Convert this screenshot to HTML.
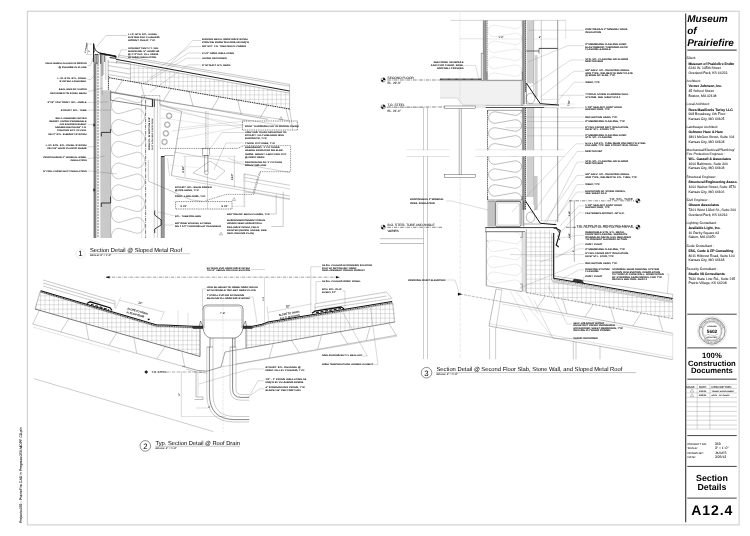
<!DOCTYPE html>
<html><head><meta charset="utf-8"><title>A12.4 Section Details</title>
<style>
html,body{margin:0;padding:0;background:#fff;}
body{width:750px;height:536px;overflow:hidden;font-family:"Liberation Sans",sans-serif;}
svg{display:block;filter:grayscale(1);text-rendering:geometricPrecision;font-family:"Liberation Sans",sans-serif;}
</style></head><body>
<svg width="750" height="536" viewBox="0 0 750 536">
<rect width="750" height="536" fill="#fff"/>
<rect x="27.30" y="11.20" width="711.80" height="513.70" fill="none" stroke="#c4c4c4" stroke-width="0.9" rx="0"/>
<text transform="translate(22.40 523.00) rotate(-90)" font-size="3.53" text-anchor="start" fill="#111" stroke="#111" stroke-width="0.08">Projects:359 - PrairieFire CAD in Progress:359-MOPF CD.pln</text>
<line x1="685.70" y1="13.60" x2="685.70" y2="522.20" stroke="#333" stroke-width="1.1"/>
<text transform="translate(687.20 22.10)" font-size="10" text-anchor="start" fill="#000" font-weight="bold" font-style="italic">Museum</text>
<text transform="translate(687.20 33.80)" font-size="10" text-anchor="start" fill="#000" font-weight="bold" font-style="italic">of</text>
<text transform="translate(687.20 45.50)" font-size="10" text-anchor="start" fill="#000" font-weight="bold" font-style="italic">Prairiefire</text>
<line x1="687.30" y1="50.10" x2="736.70" y2="50.10" stroke="#555" stroke-width="1.1"/>
<text transform="translate(686.60 59.20)" font-size="3.4" text-anchor="start" fill="#222" stroke="#222" stroke-width="0.05">Client:</text>
<text transform="translate(688.40 64.50)" font-size="3.45" text-anchor="start" fill="#000" stroke="#000" stroke-width="0.05" font-weight="bold">Museum of Prairiefire Fndtn</text>
<text transform="translate(688.40 69.17)" font-size="3.45" text-anchor="start" fill="#222" stroke="#222" stroke-width="0.05">6240 W. 135th Street</text>
<text transform="translate(688.40 73.84)" font-size="3.45" text-anchor="start" fill="#222" stroke="#222" stroke-width="0.05">Overland Park, KS 66223</text>
<text transform="translate(686.60 82.00)" font-size="3.4" text-anchor="start" fill="#222" stroke="#222" stroke-width="0.05">Architect:</text>
<text transform="translate(688.40 87.30)" font-size="3.45" text-anchor="start" fill="#000" stroke="#000" stroke-width="0.05" font-weight="bold">Verner Johnson, Inc.</text>
<text transform="translate(688.40 91.97)" font-size="3.45" text-anchor="start" fill="#222" stroke="#222" stroke-width="0.05">45 School Street</text>
<text transform="translate(688.40 96.64)" font-size="3.45" text-anchor="start" fill="#222" stroke="#222" stroke-width="0.05">Boston, MA 02108</text>
<text transform="translate(686.60 105.30)" font-size="3.4" text-anchor="start" fill="#222" stroke="#222" stroke-width="0.05">Local Architect:</text>
<text transform="translate(688.40 110.60)" font-size="3.45" text-anchor="start" fill="#000" stroke="#000" stroke-width="0.05" font-weight="bold">Rees Masilionis Turley LLC</text>
<text transform="translate(688.40 115.27)" font-size="3.45" text-anchor="start" fill="#222" stroke="#222" stroke-width="0.05">908 Broadway, 6th Floor</text>
<text transform="translate(688.40 119.94)" font-size="3.45" text-anchor="start" fill="#222" stroke="#222" stroke-width="0.05">Kansas City, MO 64105</text>
<text transform="translate(686.60 128.10)" font-size="3.4" text-anchor="start" fill="#222" stroke="#222" stroke-width="0.05">Landscape Architect:</text>
<text transform="translate(688.40 133.40)" font-size="3.45" text-anchor="start" fill="#000" stroke="#000" stroke-width="0.05" font-weight="bold">Ochsner Hare &amp; Hare</text>
<text transform="translate(688.40 138.07)" font-size="3.45" text-anchor="start" fill="#222" stroke="#222" stroke-width="0.05">1801 McGee Street, Suite 101</text>
<text transform="translate(688.40 142.74)" font-size="3.45" text-anchor="start" fill="#222" stroke="#222" stroke-width="0.05">Kansas City, MO 64108</text>
<text transform="translate(686.60 151.10)" font-size="3.4" text-anchor="start" fill="#222" stroke="#222" stroke-width="0.05">Mechanical/Electrical/Plumbing/</text>
<text transform="translate(686.60 154.80)" font-size="3.4" text-anchor="start" fill="#222" stroke="#222" stroke-width="0.05">Fire Protection Engineer :</text>
<text transform="translate(688.40 160.10)" font-size="3.45" text-anchor="start" fill="#000" stroke="#000" stroke-width="0.05" font-weight="bold">W.L. Cassell &amp; Associates</text>
<text transform="translate(688.40 164.77)" font-size="3.45" text-anchor="start" fill="#222" stroke="#222" stroke-width="0.05">1600 Baltimore, Suite 300</text>
<text transform="translate(688.40 169.44)" font-size="3.45" text-anchor="start" fill="#222" stroke="#222" stroke-width="0.05">Kansas City, MO 64108</text>
<text transform="translate(686.60 178.00)" font-size="3.4" text-anchor="start" fill="#222" stroke="#222" stroke-width="0.05">Structural Engineer :</text>
<text transform="translate(688.40 183.30)" font-size="3.45" text-anchor="start" fill="#000" stroke="#000" stroke-width="0.05" font-weight="bold">Structural Engineering Assoc.</text>
<text transform="translate(688.40 187.97)" font-size="3.45" text-anchor="start" fill="#222" stroke="#222" stroke-width="0.05">1000 Walnut Street, Suite 1570</text>
<text transform="translate(688.40 192.64)" font-size="3.45" text-anchor="start" fill="#222" stroke="#222" stroke-width="0.05">Kansas City, MO 64106</text>
<text transform="translate(686.60 201.10)" font-size="3.4" text-anchor="start" fill="#222" stroke="#222" stroke-width="0.05">Civil Engineer :</text>
<text transform="translate(688.40 206.40)" font-size="3.45" text-anchor="start" fill="#000" stroke="#000" stroke-width="0.05" font-weight="bold">Olsson Associates</text>
<text transform="translate(688.40 211.07)" font-size="3.45" text-anchor="start" fill="#222" stroke="#222" stroke-width="0.05">7301 West 133rd St., Suite 200</text>
<text transform="translate(688.40 215.74)" font-size="3.45" text-anchor="start" fill="#222" stroke="#222" stroke-width="0.05">Overland Park, KS 66213</text>
<text transform="translate(686.60 223.80)" font-size="3.4" text-anchor="start" fill="#222" stroke="#222" stroke-width="0.05">Lighting Consultant :</text>
<text transform="translate(688.40 229.10)" font-size="3.45" text-anchor="start" fill="#000" stroke="#000" stroke-width="0.05" font-weight="bold">Available Light, Inc.</text>
<text transform="translate(688.40 233.77)" font-size="3.45" text-anchor="start" fill="#222" stroke="#222" stroke-width="0.05">10 Derby Square #3</text>
<text transform="translate(688.40 238.44)" font-size="3.45" text-anchor="start" fill="#222" stroke="#222" stroke-width="0.05">Salem, MA 01970</text>
<text transform="translate(686.60 246.70)" font-size="3.4" text-anchor="start" fill="#222" stroke="#222" stroke-width="0.05">Code Consultant :</text>
<text transform="translate(688.40 252.00)" font-size="3.45" text-anchor="start" fill="#000" stroke="#000" stroke-width="0.05" font-weight="bold">FSC, Code &amp; FP Consulting</text>
<text transform="translate(688.40 256.67)" font-size="3.45" text-anchor="start" fill="#222" stroke="#222" stroke-width="0.05">8011 Hillcrest Road, Suite 100</text>
<text transform="translate(688.40 261.34)" font-size="3.45" text-anchor="start" fill="#222" stroke="#222" stroke-width="0.05">Kansas City, MO 64138</text>
<text transform="translate(686.60 269.60)" font-size="3.4" text-anchor="start" fill="#222" stroke="#222" stroke-width="0.05">Security Consultant :</text>
<text transform="translate(688.40 274.90)" font-size="3.45" text-anchor="start" fill="#000" stroke="#000" stroke-width="0.05" font-weight="bold">Studio 08  Consultants</text>
<text transform="translate(688.40 279.57)" font-size="3.45" text-anchor="start" fill="#222" stroke="#222" stroke-width="0.05">7930 State Line Rd., Suite 215</text>
<text transform="translate(688.40 284.24)" font-size="3.45" text-anchor="start" fill="#222" stroke="#222" stroke-width="0.05">Prairie Village, KS 66208</text>
<line x1="687.30" y1="314.20" x2="736.70" y2="314.20" stroke="#444" stroke-width="1.0"/>
<circle cx="712.00" cy="331.10" r="14.60" fill="none" stroke="#aaa" stroke-width="0.3"/>
<circle cx="712.00" cy="331.10" r="13.10" fill="none" stroke="#444" stroke-width="0.55"/>
<circle cx="712.00" cy="331.10" r="12.40" fill="none" stroke="#888" stroke-width="0.25"/>
<circle cx="712.00" cy="331.10" r="9.90" fill="none" stroke="#444" stroke-width="0.45"/>
<circle cx="712.00" cy="331.10" r="8.90" fill="none" stroke="#777" stroke-width="0.3"/>
<text transform="translate(712.00 333.30)" font-size="4.7" text-anchor="middle" fill="#000" font-weight="bold">5602</text>
<path id="sealp" d="M 701.40 331.10 A 10.6 10.6 0 0 1 722.60 331.10" fill="none"/>
<text font-size="2.3" fill="#333"><textPath href="#sealp" startOffset="7%">MICHAEL A. ROSENBERG</textPath></text>
<path id="sealq" d="M 699.90 331.10 A 12.1 12.1 0 0 0 724.10 331.10" fill="none"/>
<text font-size="2.3" fill="#333"><textPath href="#sealq" startOffset="24%">STATE OF KANSAS</textPath></text>
<text transform="translate(712.00 326.80)" font-size="1.9" text-anchor="middle" fill="#444" stroke="#444" stroke-width="0.085">LICENSED</text>
<text transform="translate(712.00 338.00)" font-size="1.9" text-anchor="middle" fill="#444" stroke="#444" stroke-width="0.085">ARCHITECT</text>
<path d="M 705.00 335.70 q 3 -2.4 6 -0.6 t 7 -1.2" fill="none" stroke="#666" stroke-width="0.3" />
<line x1="687.30" y1="347.90" x2="736.70" y2="347.90" stroke="#444" stroke-width="1.0"/>
<text transform="translate(711.90 358.40)" font-size="7.7" text-anchor="middle" fill="#000" font-weight="bold">100%</text>
<text transform="translate(711.90 365.70)" font-size="7.7" text-anchor="middle" fill="#000" font-weight="bold">Construction</text>
<text transform="translate(711.90 373.10)" font-size="7.7" text-anchor="middle" fill="#000" font-weight="bold">Documents</text>
<line x1="687.30" y1="379.20" x2="736.70" y2="379.20" stroke="#444" stroke-width="1.0"/>
<line x1="686.50" y1="384.30" x2="737.00" y2="384.30" stroke="#777" stroke-width="0.3"/>
<line x1="686.50" y1="388.40" x2="737.00" y2="388.40" stroke="#777" stroke-width="0.3"/>
<line x1="686.50" y1="392.90" x2="737.00" y2="392.90" stroke="#777" stroke-width="0.3"/>
<line x1="686.50" y1="397.40" x2="737.00" y2="397.40" stroke="#777" stroke-width="0.3"/>
<line x1="686.50" y1="402.00" x2="737.00" y2="402.00" stroke="#777" stroke-width="0.3"/>
<line x1="686.50" y1="406.70" x2="737.00" y2="406.70" stroke="#777" stroke-width="0.3"/>
<line x1="686.50" y1="411.40" x2="737.00" y2="411.40" stroke="#777" stroke-width="0.3"/>
<line x1="686.50" y1="416.00" x2="737.00" y2="416.00" stroke="#777" stroke-width="0.3"/>
<line x1="686.50" y1="420.30" x2="737.00" y2="420.30" stroke="#777" stroke-width="0.3"/>
<line x1="686.50" y1="425.00" x2="737.00" y2="425.00" stroke="#777" stroke-width="0.3"/>
<line x1="686.50" y1="429.10" x2="737.00" y2="429.10" stroke="#777" stroke-width="0.3"/>
<line x1="697.20" y1="384.30" x2="697.20" y2="429.10" stroke="#777" stroke-width="0.3"/>
<line x1="709.90" y1="384.30" x2="709.90" y2="429.10" stroke="#777" stroke-width="0.3"/>
<text transform="translate(686.30 387.60)" font-size="2.9" text-anchor="start" fill="#222" stroke="#222" stroke-width="0.05">MARK</text>
<text transform="translate(699.00 387.60)" font-size="2.9" text-anchor="start" fill="#222" stroke="#222" stroke-width="0.05">DATE</text>
<text transform="translate(711.60 387.60)" font-size="2.9" text-anchor="start" fill="#222" stroke="#222" stroke-width="0.05">DESCRIPTION</text>
<path d="M690.20 392.00 L692.00 389.10 L693.80 392.00 Z" fill="none" stroke="#444" stroke-width="0.3"/>
<text transform="translate(699.00 391.80) scale(1.1 1)" font-size="2.0" text-anchor="start" fill="#333" stroke="#333" stroke-width="0.085">5/13/13</text>
<text transform="translate(711.60 391.80) scale(1.1 1)" font-size="1.75" text-anchor="start" fill="#333" stroke="#333" stroke-width="0.085">TENANT IMPROVEMENT</text>
<path d="M690.20 396.60 L692.00 393.70 L693.80 396.60 Z" fill="none" stroke="#444" stroke-width="0.3"/>
<text transform="translate(699.00 396.40) scale(1.1 1)" font-size="2.0" text-anchor="start" fill="#333" stroke="#333" stroke-width="0.085">8/26/13</text>
<text transform="translate(711.60 396.40) scale(1.1 1)" font-size="1.75" text-anchor="start" fill="#333" stroke="#333" stroke-width="0.085">ASI 31 - RFI CLARIF.</text>
<line x1="687.30" y1="435.60" x2="736.70" y2="435.60" stroke="#444" stroke-width="1.0"/>
<text transform="translate(687.50 444.60) scale(1.08 1)" font-size="2.7" text-anchor="start" fill="#222" stroke="#222" stroke-width="0.05">PROJECT NO.</text>
<text transform="translate(714.90 444.60)" font-size="3.4" text-anchor="start" fill="#222" stroke="#222" stroke-width="0.05">359</text>
<text transform="translate(687.50 449.10) scale(1.08 1)" font-size="2.7" text-anchor="start" fill="#222" stroke="#222" stroke-width="0.05">SCALE:</text>
<text transform="translate(714.90 449.10)" font-size="3.4" text-anchor="start" fill="#222" stroke="#222" stroke-width="0.05">3" = 1'-0"</text>
<text transform="translate(687.50 453.50) scale(1.08 1)" font-size="2.7" text-anchor="start" fill="#222" stroke="#222" stroke-width="0.05">DRAWN BY:</text>
<text transform="translate(714.90 453.50)" font-size="3.4" text-anchor="start" fill="#222" stroke="#222" stroke-width="0.05">JK/AES</text>
<text transform="translate(687.50 458.10) scale(1.08 1)" font-size="2.7" text-anchor="start" fill="#222" stroke="#222" stroke-width="0.05">DATE:</text>
<text transform="translate(714.90 458.10)" font-size="3.4" text-anchor="start" fill="#222" stroke="#222" stroke-width="0.05">3/26/13</text>
<line x1="687.30" y1="466.40" x2="736.70" y2="466.40" stroke="#444" stroke-width="1.0"/>
<text transform="translate(711.90 480.80)" font-size="8.8" text-anchor="middle" fill="#000" font-weight="bold">Section</text>
<text transform="translate(711.90 489.60)" font-size="8.8" text-anchor="middle" fill="#000" font-weight="bold">Details</text>
<line x1="687.30" y1="498.10" x2="736.70" y2="498.10" stroke="#444" stroke-width="1.0"/>
<text transform="translate(712.20 515.30)" font-size="14" text-anchor="middle" fill="#000" font-weight="bold" letter-spacing="0.95">A12.4</text>
<line x1="118.00" y1="54.97" x2="289.60" y2="84.40" stroke="#444" stroke-width="0.3"/>
<line x1="118.00" y1="56.77" x2="289.60" y2="86.20" stroke="#444" stroke-width="0.3"/>
<line x1="116.00" y1="59.32" x2="289.60" y2="91.00" stroke="#111" stroke-width="0.95"/>
<line x1="116.00" y1="61.52" x2="289.60" y2="93.20" stroke="#333" stroke-width="0.3"/>
<clipPath id="g1"><path d="M130.4 64.15 L289.60 93.20 L289.60 109.02 L130.4 81.39 Z"/></clipPath>
<g clip-path="url(#g1)" stroke="#858585" stroke-width="0.25"><line x1="134.20" y1="58.00" x2="134.20" y2="112.00"/><line x1="138.65" y1="58.00" x2="138.65" y2="112.00"/><line x1="143.10" y1="58.00" x2="143.10" y2="112.00"/><line x1="147.55" y1="58.00" x2="147.55" y2="112.00"/><line x1="152.00" y1="58.00" x2="152.00" y2="112.00"/><line x1="156.45" y1="58.00" x2="156.45" y2="112.00"/><line x1="160.90" y1="58.00" x2="160.90" y2="112.00"/><line x1="165.35" y1="58.00" x2="165.35" y2="112.00"/><line x1="169.80" y1="58.00" x2="169.80" y2="112.00"/><line x1="174.25" y1="58.00" x2="174.25" y2="112.00"/><line x1="178.70" y1="58.00" x2="178.70" y2="112.00"/><line x1="183.15" y1="58.00" x2="183.15" y2="112.00"/><line x1="187.60" y1="58.00" x2="187.60" y2="112.00"/><line x1="192.05" y1="58.00" x2="192.05" y2="112.00"/><line x1="196.50" y1="58.00" x2="196.50" y2="112.00"/><line x1="200.95" y1="58.00" x2="200.95" y2="112.00"/><line x1="205.40" y1="58.00" x2="205.40" y2="112.00"/><line x1="209.85" y1="58.00" x2="209.85" y2="112.00"/><line x1="214.30" y1="58.00" x2="214.30" y2="112.00"/><line x1="218.75" y1="58.00" x2="218.75" y2="112.00"/><line x1="223.20" y1="58.00" x2="223.20" y2="112.00"/><line x1="227.65" y1="58.00" x2="227.65" y2="112.00"/><line x1="232.10" y1="58.00" x2="232.10" y2="112.00"/><line x1="236.55" y1="58.00" x2="236.55" y2="112.00"/><line x1="241.00" y1="58.00" x2="241.00" y2="112.00"/><line x1="245.45" y1="58.00" x2="245.45" y2="112.00"/><line x1="249.90" y1="58.00" x2="249.90" y2="112.00"/><line x1="254.35" y1="58.00" x2="254.35" y2="112.00"/><line x1="258.80" y1="58.00" x2="258.80" y2="112.00"/><line x1="263.25" y1="58.00" x2="263.25" y2="112.00"/><line x1="267.70" y1="58.00" x2="267.70" y2="112.00"/><line x1="272.15" y1="58.00" x2="272.15" y2="112.00"/><line x1="276.60" y1="58.00" x2="276.60" y2="112.00"/><line x1="281.05" y1="58.00" x2="281.05" y2="112.00"/><line x1="285.50" y1="58.00" x2="285.50" y2="112.00"/><line x1="289.95" y1="58.00" x2="289.95" y2="112.00"/><line x1="130.00" y1="59.30" x2="291.00" y2="59.30"/><line x1="130.00" y1="63.75" x2="291.00" y2="63.75"/><line x1="130.00" y1="68.20" x2="291.00" y2="68.20"/><line x1="130.00" y1="72.65" x2="291.00" y2="72.65"/><line x1="130.00" y1="77.10" x2="291.00" y2="77.10"/><line x1="130.00" y1="81.55" x2="291.00" y2="81.55"/><line x1="130.00" y1="86.00" x2="291.00" y2="86.00"/><line x1="130.00" y1="90.45" x2="291.00" y2="90.45"/><line x1="130.00" y1="94.90" x2="291.00" y2="94.90"/><line x1="130.00" y1="99.35" x2="291.00" y2="99.35"/><line x1="130.00" y1="103.80" x2="291.00" y2="103.80"/><line x1="130.00" y1="108.25" x2="291.00" y2="108.25"/></g>
<line x1="109.00" y1="77.68" x2="289.60" y2="109.02" stroke="#222" stroke-width="0.9" stroke-dasharray="1.6 0.7"/>
<line x1="110.00" y1="91.40" x2="268.00" y2="119.37" stroke="#333" stroke-width="0.35"/>
<line x1="260.00" y1="117.95" x2="267.60" y2="105.20" stroke="#444" stroke-width="0.3"/>
<line x1="285.80" y1="108.36" x2="289.60" y2="123.19" stroke="#444" stroke-width="0.3"/>
<line x1="211.70" y1="109.40" x2="219.30" y2="96.82" stroke="#444" stroke-width="0.3"/>
<line x1="237.50" y1="99.98" x2="241.30" y2="114.64" stroke="#444" stroke-width="0.3"/>
<line x1="163.40" y1="100.85" x2="171.00" y2="88.44" stroke="#444" stroke-width="0.3"/>
<line x1="189.20" y1="91.60" x2="193.00" y2="106.09" stroke="#444" stroke-width="0.3"/>
<line x1="115.10" y1="92.30" x2="122.70" y2="80.06" stroke="#444" stroke-width="0.3"/>
<line x1="140.90" y1="83.22" x2="144.70" y2="97.54" stroke="#444" stroke-width="0.3"/>
<path d="M110.70 92.30 L152.30 99.30 L152.30 106.80 L110.70 100.20 Z" fill="none" stroke="#222" stroke-width="0.55"/>
<line x1="289.60" y1="84.40" x2="289.60" y2="110.02" stroke="#444" stroke-width="0.3"/>
<line x1="289.60" y1="109.02" x2="292.60" y2="129.19" stroke="#555" stroke-width="0.3"/>
<line x1="108.20" y1="62.00" x2="130.40" y2="64.00" stroke="#444" stroke-width="0.3"/>
<line x1="108.20" y1="65.60" x2="130.40" y2="69.20" stroke="#444" stroke-width="0.3"/>
<line x1="108.20" y1="70.40" x2="130.40" y2="74.00" stroke="#444" stroke-width="0.3"/>
<line x1="108.20" y1="74.60" x2="130.40" y2="78.20" stroke="#444" stroke-width="0.3"/>
<line x1="130.40" y1="64.15" x2="130.40" y2="81.39" stroke="#444" stroke-width="0.3"/>
<line x1="108.40" y1="76.00" x2="108.40" y2="90.00" stroke="#111" stroke-width="0.8" stroke-dasharray="1.6 0.6"/>
<line x1="108.20" y1="60.00" x2="108.20" y2="76.00" stroke="#333" stroke-width="0.35"/>
<path d="M93.6 43.6 L93.4 62 M93.6 43.6 Q94.2 51.6 99.8 53 L116 56 L116 58.3 L109.6 57.6" fill="none" stroke="#111" stroke-width="0.9" />
<path d="M93.6 44 L94.4 50 L94.3 52.4 L93.6 52.4 Z" fill="#333" stroke="#111" stroke-width="0.2" />
<line x1="99.80" y1="53.40" x2="116.00" y2="56.60" stroke="#111" stroke-width="1.2"/>
<rect x="95.00" y="54.60" width="3.00" height="8.60" fill="none" stroke="#111" stroke-width="0.7" rx="0"/>
<line x1="96.50" y1="55.00" x2="96.50" y2="63.00" stroke="#222" stroke-width="0.5"/>
<line x1="100.70" y1="54.50" x2="100.70" y2="64.00" stroke="#111" stroke-width="0.7"/>
<line x1="102.10" y1="55.00" x2="102.10" y2="76.00" stroke="#222" stroke-width="0.5"/>
<line x1="104.60" y1="55.50" x2="104.60" y2="62.00" stroke="#222" stroke-width="0.6"/>
<line x1="99.00" y1="54.00" x2="107.00" y2="55.50" stroke="#222" stroke-width="0.6"/>
<line x1="101.00" y1="55.00" x2="101.00" y2="62.00" stroke="#222" stroke-width="0.5"/>
<line x1="103.60" y1="56.00" x2="103.60" y2="75.00" stroke="#444" stroke-width="0.3"/>
<line x1="105.80" y1="56.50" x2="105.80" y2="80.00" stroke="#444" stroke-width="0.3"/>
<line x1="87.50" y1="44.00" x2="87.50" y2="54.50" stroke="#555" stroke-width="0.25"/>
<line x1="86.00" y1="44.00" x2="92.00" y2="44.00" stroke="#777" stroke-width="0.25"/>
<line x1="86.00" y1="54.50" x2="92.00" y2="54.50" stroke="#777" stroke-width="0.25"/>
<text transform="translate(85.80 53.00) rotate(-80)" font-size="1.7" text-anchor="start" fill="#333" stroke="#333" stroke-width="0.085">4" STRAIGHT</text>
<text transform="translate(89.60 52.00) rotate(-80)" font-size="1.8" text-anchor="start" fill="#333" stroke="#333" stroke-width="0.085">2"</text>
<rect x="94.00" y="64.00" width="2.00" height="174.00" fill="#9a9a9a" stroke="none" stroke-width="0.4" rx="0"/>
<line x1="94.00" y1="62.00" x2="94.00" y2="238.00" stroke="#222" stroke-width="0.55"/>
<line x1="96.00" y1="64.00" x2="96.00" y2="238.00" stroke="#333" stroke-width="0.4"/>
<line x1="98.00" y1="64.00" x2="98.00" y2="238.00" stroke="#111" stroke-width="0.55" stroke-dasharray="2.2 0.8"/>
<rect x="101.60" y="90.30" width="8.60" height="147.70" fill="#c9c9c9" stroke="none" stroke-width="0.4" rx="0"/>
<line x1="101.00" y1="62.00" x2="101.00" y2="238.00" stroke="#333" stroke-width="0.35"/>
<line x1="110.60" y1="90.00" x2="110.60" y2="238.00" stroke="#333" stroke-width="0.35"/>
<line x1="102.20" y1="62.00" x2="102.20" y2="95.00" stroke="#555" stroke-width="0.3"/>
<path d="M101.3 136.5 L101.3 132.4 L110.6 132.4 L110.6 129" fill="none" stroke="#111" stroke-width="0.8" />
<path d="M101.3 207 L101.3 203 L110.6 203 L110.6 196.5" fill="none" stroke="#111" stroke-width="0.8" />
<path d="M93.60 123.80 L95.20 125.00 L93.60 126.20 Z" fill="#111" stroke="#111" stroke-width="0.3"/>
<path d="M93.60 188.80 L95.20 190.00 L93.60 191.20 Z" fill="#111" stroke="#111" stroke-width="0.3"/>
<clipPath id="b1"><rect x="110.8" y="96" width="34" height="142.0"/></clipPath>
<g clip-path="url(#b1)"><path d="M 137.10 86.85 A 7.50 8.00 0 0 1 137.10 102.85 L 118.90 97.72 A 7.50 8.00 0 0 0 118.90 113.72 L 137.10 108.60 A 7.50 8.00 0 0 1 137.10 124.60 L 118.90 119.47 A 7.50 8.00 0 0 0 118.90 135.47 L 137.10 130.35 A 7.50 8.00 0 0 1 137.10 146.35 L 118.90 141.22 A 7.50 8.00 0 0 0 118.90 157.22 L 137.10 152.10 A 7.50 8.00 0 0 1 137.10 168.10 L 118.90 162.97 A 7.50 8.00 0 0 0 118.90 178.97 L 137.10 173.85 A 7.50 8.00 0 0 1 137.10 189.85 L 118.90 184.72 A 7.50 8.00 0 0 0 118.90 200.72 L 137.10 195.60 A 7.50 8.00 0 0 1 137.10 211.60 L 118.90 206.47 A 7.50 8.00 0 0 0 118.90 222.47 L 137.10 217.35 A 7.50 8.00 0 0 1 137.10 233.35 L 118.90 228.22 A 7.50 8.00 0 0 0 118.90 244.22 L 137.10 239.10 A 7.50 8.00 0 0 1 137.10 255.10 L 118.90 249.98 A 7.50 8.00 0 0 0 118.90 265.98 L 137.10 260.85" fill="none" stroke="#555" stroke-width="0.32"/></g>
<line x1="141.60" y1="100.00" x2="141.60" y2="238.00" stroke="#555" stroke-width="0.35" stroke-dasharray="0.5 0.6"/>
<line x1="145.60" y1="100.00" x2="145.60" y2="238.00" stroke="#111" stroke-width="0.55" stroke-dasharray="3.6 0.9 0.8 0.9"/>
<text transform="translate(149.60 150.00) rotate(-90)" font-size="2.2" text-anchor="start" fill="#222" stroke="#222" stroke-width="0.085">PERM. STL. IN 'RACCOON FUR'</text>
<text transform="translate(152.80 150.00) rotate(-90)" font-size="1.9" text-anchor="start" fill="#444" stroke="#444" stroke-width="0.085">PAINT &amp; COLUMNS IN ROOF BEAM</text>
<line x1="154.20" y1="98.00" x2="154.20" y2="238.00" stroke="#555" stroke-width="0.3"/>
<line x1="157.40" y1="98.00" x2="157.40" y2="238.00" stroke="#555" stroke-width="0.3"/>
<line x1="160.00" y1="100.00" x2="160.00" y2="148.00" stroke="#444" stroke-width="0.35" stroke-dasharray="0.5 0.6"/>
<path d="M141.60 106.00 L141.60 95.50 L159.80 95.50 L159.80 106.00" fill="none" stroke="#333" stroke-width="0.45" stroke-dasharray="0.8 0.6"/>
<line x1="152.50" y1="99.00" x2="152.50" y2="107.00" stroke="#111" stroke-width="0.8"/>
<line x1="154.30" y1="99.50" x2="154.30" y2="107.00" stroke="#111" stroke-width="0.8"/>
<path d="M160.00 104.50 L181.70 111.50 L171.30 175.60" fill="none" stroke="#333" stroke-width="0.35"/>
<circle cx="169.10" cy="115.80" r="2.80" fill="none" stroke="#333" stroke-width="0.4"/>
<circle cx="169.10" cy="115.80" r="2.10" fill="none" stroke="#666" stroke-width="0.25"/>
<circle cx="167.30" cy="124.70" r="2.80" fill="none" stroke="#333" stroke-width="0.4"/>
<circle cx="167.30" cy="124.70" r="2.10" fill="none" stroke="#666" stroke-width="0.25"/>
<circle cx="165.90" cy="133.40" r="2.80" fill="none" stroke="#333" stroke-width="0.4"/>
<circle cx="165.90" cy="133.40" r="2.10" fill="none" stroke="#666" stroke-width="0.25"/>
<circle cx="164.50" cy="141.90" r="2.80" fill="none" stroke="#333" stroke-width="0.4"/>
<circle cx="164.50" cy="141.90" r="2.10" fill="none" stroke="#666" stroke-width="0.25"/>
<path d="M160.00 148.40 L238.00 148.40 L242.00 146.00" fill="none" stroke="#222" stroke-width="0.55" stroke-dasharray="1.0 0.8"/>
<line x1="206.00" y1="111.00" x2="206.00" y2="148.00" stroke="#555" stroke-width="0.3" stroke-dasharray="0.5 0.6"/>
<line x1="146.00" y1="98.87" x2="288.00" y2="120.46" stroke="#555" stroke-width="0.3"/>
<line x1="160.00" y1="106.00" x2="288.00" y2="126.48" stroke="#777" stroke-width="0.3"/>
<line x1="174.00" y1="152.00" x2="290.00" y2="172.50" stroke="#666" stroke-width="0.3"/>
<line x1="171.30" y1="175.60" x2="290.00" y2="196.00" stroke="#444" stroke-width="0.3"/>
<line x1="176.00" y1="178.60" x2="290.00" y2="198.80" stroke="#777" stroke-width="0.3"/>
<line x1="181.70" y1="111.50" x2="240.00" y2="128.00" stroke="#999" stroke-width="0.25"/>
<line x1="178.00" y1="128.00" x2="244.00" y2="121.00" stroke="#999" stroke-width="0.25"/>
<line x1="176.00" y1="139.00" x2="242.00" y2="127.00" stroke="#999" stroke-width="0.25"/>
<line x1="160.00" y1="118.00" x2="206.00" y2="124.00" stroke="#aaa" stroke-width="0.25"/>
<rect x="161.20" y="156.40" width="3.30" height="81.60" fill="#999" stroke="none" stroke-width="0.4" rx="0"/>
<line x1="161.20" y1="156.40" x2="161.20" y2="238.00" stroke="#333" stroke-width="0.45"/>
<line x1="164.50" y1="157.50" x2="164.50" y2="238.00" stroke="#555" stroke-width="0.3"/>
<line x1="161.00" y1="156.60" x2="164.60" y2="156.60" stroke="#111" stroke-width="0.9"/>
<path d="M164.40 155.50 L174.00 155.50" fill="none" stroke="#333" stroke-width="0.35"/>
<line x1="167.50" y1="158.00" x2="169.50" y2="176.00" stroke="#777" stroke-width="0.25"/>
<path d="M148.30 160.00 L148.30 181.00 L191.50 200.00 L203.00 201.30" fill="none" stroke="#444" stroke-width="0.3"/>
<path d="M154.70 210.50 L154.70 215.00 L161.20 220.00 L161.20 225.00 L154.70 229.00 L154.70 233.00" fill="none" stroke="#111" stroke-width="0.8"/>
<rect x="175.60" y="201.60" width="56.40" height="7.40" fill="none" stroke="#111" stroke-width="0.55" rx="0" stroke-dasharray="1.0 0.8"/>
<text transform="translate(180.50 206.80)" font-size="2.6" text-anchor="start" fill="#222" stroke="#222" stroke-width="0.05">8 1/2"</text>
<text transform="translate(221.50 206.80)" font-size="2.6" text-anchor="start" fill="#222" stroke="#222" stroke-width="0.05">8 1/2"</text>
<line x1="207.50" y1="147.80" x2="207.50" y2="209.00" stroke="#666" stroke-width="0.25"/>
<line x1="205.70" y1="111.00" x2="205.70" y2="148.40" stroke="#555" stroke-width="0.3" stroke-dasharray="1 0.5"/>
<line x1="208.00" y1="111.50" x2="208.00" y2="148.40" stroke="#555" stroke-width="0.3" stroke-dasharray="1 0.5"/>
<rect x="202.50" y="148.40" width="7.20" height="7.10" fill="none" stroke="#333" stroke-width="0.35" rx="0"/>
<rect x="204.60" y="155.50" width="3.40" height="15.90" fill="none" stroke="#333" stroke-width="0.35" rx="0"/>
<circle cx="206.40" cy="172.70" r="1.90" fill="#fff" stroke="#333" stroke-width="0.35"/>
<path d="M193.00 173.00 L210.00 161.00 L225.00 171.00 L215.00 180.00 Z" fill="none" stroke="#555" stroke-width="0.3"/>
<line x1="185.00" y1="156.30" x2="185.00" y2="177.00" stroke="#555" stroke-width="0.25"/>
<text transform="translate(184.00 172.50) rotate(-90)" font-size="2.5" text-anchor="start" fill="#222" stroke="#222" stroke-width="0.085">8 1/2"</text>
<line x1="234.30" y1="156.30" x2="234.30" y2="187.00" stroke="#555" stroke-width="0.25"/>
<text transform="translate(233.30 180.00) rotate(-90)" font-size="2.5" text-anchor="start" fill="#222" stroke="#222" stroke-width="0.085">8 1/2"</text>
<line x1="183.00" y1="156.30" x2="236.00" y2="156.30" stroke="#888" stroke-width="0.25"/>
<line x1="170.00" y1="165.00" x2="200.00" y2="168.00" stroke="#aaa" stroke-width="0.2"/>
<line x1="160.00" y1="108.70" x2="250.00" y2="126.40" stroke="#999" stroke-width="0.25"/>
<line x1="160.00" y1="104.60" x2="250.00" y2="121.40" stroke="#888" stroke-width="0.25"/>
<path d="M243.00 125.40 L217.00 125.40 L172.00 131.00" fill="none" stroke="#888" stroke-width="0.25"/>
<path d="M244.00 174.00 L258.00 176.40 L253.00 193.00 L245.00 191.80" fill="none" stroke="#444" stroke-width="0.3"/>
<line x1="244.00" y1="174.00" x2="244.00" y2="182.00" stroke="#444" stroke-width="0.3"/>
<line x1="245.00" y1="177.50" x2="290.00" y2="185.30" stroke="#555" stroke-width="0.3"/>
<line x1="245.00" y1="181.00" x2="290.00" y2="189.00" stroke="#777" stroke-width="0.3"/>
<line x1="253.00" y1="193.00" x2="290.00" y2="199.50" stroke="#555" stroke-width="0.3"/>
<path d="M276.20 194.40 L276.20 214.00 L270.00 214.00" fill="none" stroke="#555" stroke-width="0.3"/>
<path d="M283.20 191.60 L283.20 226.50 L271.30 226.50" fill="none" stroke="#555" stroke-width="0.3"/>
<line x1="244.00" y1="182.00" x2="244.00" y2="207.00" stroke="#777" stroke-width="0.25"/>
<rect x="242.40" y="121.00" width="55.00" height="9.00" fill="none" stroke="#111" stroke-width="0.55" rx="0" stroke-dasharray="1.0 0.8"/>
<path d="M242.00 146.40 L244.00 145.60 L290.60 145.60 L290.60 171.70 L260.40 171.70 L258.00 175.50" fill="none" stroke="#222" stroke-width="0.5" stroke-dasharray="1.0 0.8"/>
<path d="M260.40 171.70 L253.80 194.40 L226.00 194.40 L205.00 200.90" fill="none" stroke="#222" stroke-width="0.5" stroke-dasharray="1.0 0.8"/>
<line x1="244.80" y1="173.40" x2="244.80" y2="206.30" stroke="#888" stroke-width="0.25"/>
<line x1="232.00" y1="206.30" x2="245.00" y2="206.30" stroke="#888" stroke-width="0.25"/>
<path d="M279.40 119.50 L281.00 116.70 L282.60 119.50 Z" fill="none" stroke="#333" stroke-width="0.3"/>
<path d="M232.40 200.50 L234.00 197.70 L235.60 200.50 Z" fill="none" stroke="#333" stroke-width="0.3"/>
<path d="M219.40 235.00 L221.00 232.20 L222.60 235.00 Z" fill="none" stroke="#333" stroke-width="0.3"/>
<text transform="translate(86.60 64.40) scale(1.175 1)" font-size="2.3" text-anchor="end" fill="#111" stroke="#111" stroke-width="0.085">PEAK SHOULD ALWAYS OCCUR</text>
<text transform="translate(86.60 68.20) scale(1.175 1)" font-size="2.3" text-anchor="end" fill="#111" stroke="#111" stroke-width="0.085">@ CHANGE IN PLANE</text>
<text transform="translate(86.60 78.80) scale(1.175 1)" font-size="2.3" text-anchor="end" fill="#111" stroke="#111" stroke-width="0.085">L.I.C. STN. STL. PANEL</text>
<text transform="translate(86.60 82.00) scale(1.175 1)" font-size="2.3" text-anchor="end" fill="#111" stroke="#111" stroke-width="0.085">SYSTEM J-CHANNEL</text>
<text transform="translate(86.60 90.40) scale(1.175 1)" font-size="2.3" text-anchor="end" fill="#111" stroke="#111" stroke-width="0.085">SEAL END OF VAPOR</text>
<text transform="translate(86.60 93.60) scale(1.175 1)" font-size="2.3" text-anchor="end" fill="#111" stroke="#111" stroke-width="0.085">RETARDER TO STEEL BEAM</text>
<text transform="translate(86.60 103.20) scale(1.175 1)" font-size="2.3" text-anchor="end" fill="#111" stroke="#111" stroke-width="0.085">3"X3" X1/4" CONT. STL. ANGLE</text>
<text transform="translate(86.60 111.00) scale(1.175 1)" font-size="2.3" text-anchor="end" fill="#111" stroke="#111" stroke-width="0.085">STRUCT. STL. TUBE</text>
<text transform="translate(86.60 119.00) scale(1.175 1)" font-size="2.3" text-anchor="end" fill="#111" stroke="#111" stroke-width="0.085">SELF-ADHERED WATER</text>
<text transform="translate(86.60 122.10) scale(1.175 1)" font-size="2.3" text-anchor="end" fill="#111" stroke="#111" stroke-width="0.085">RESIST. VAPOR PERMEABLE</text>
<text transform="translate(86.60 125.20) scale(1.175 1)" font-size="2.3" text-anchor="end" fill="#111" stroke="#111" stroke-width="0.085">AIR BARRIER SHEET</text>
<text transform="translate(86.60 128.30) scale(1.175 1)" font-size="2.3" text-anchor="end" fill="#111" stroke="#111" stroke-width="0.085">MEMBRANE ON 3/4" F.R.</text>
<text transform="translate(86.60 131.40) scale(1.175 1)" font-size="2.3" text-anchor="end" fill="#111" stroke="#111" stroke-width="0.085">TREATED EXT. PLYWD.</text>
<text transform="translate(86.60 134.70) scale(1.175 1)" font-size="2.3" text-anchor="end" fill="#111" stroke="#111" stroke-width="0.085">ON 2" STL. SUBGIRT SYSTEM</text>
<text transform="translate(86.60 146.00) scale(1.175 1)" font-size="2.3" text-anchor="end" fill="#111" stroke="#111" stroke-width="0.085">L.I.C. STN. STL. PANEL SYSTEM</text>
<text transform="translate(86.60 149.20) scale(1.175 1)" font-size="2.3" text-anchor="end" fill="#111" stroke="#111" stroke-width="0.085">ON 1/4" HARD PLASTIC SHIMS</text>
<text transform="translate(86.60 158.20) scale(1.175 1)" font-size="2.3" text-anchor="end" fill="#111" stroke="#111" stroke-width="0.085">CONTINUOUS 2" MINERAL WOOL</text>
<text transform="translate(86.60 161.40) scale(1.175 1)" font-size="2.3" text-anchor="end" fill="#111" stroke="#111" stroke-width="0.085">INSULATION</text>
<text transform="translate(86.60 171.80) scale(1.175 1)" font-size="2.3" text-anchor="end" fill="#111" stroke="#111" stroke-width="0.085">6" FOIL-FACED BATT INSULATION</text>
<line x1="87.60" y1="65.50" x2="90.50" y2="65.50" stroke="#555" stroke-width="0.25"/>
<line x1="90.50" y1="65.50" x2="93.00" y2="58.00" stroke="#555" stroke-width="0.25"/>
<line x1="87.60" y1="79.60" x2="90.50" y2="79.60" stroke="#555" stroke-width="0.25"/>
<line x1="90.50" y1="79.60" x2="94.00" y2="76.00" stroke="#555" stroke-width="0.25"/>
<line x1="87.60" y1="91.20" x2="90.50" y2="91.20" stroke="#555" stroke-width="0.25"/>
<line x1="90.50" y1="91.20" x2="103.00" y2="88.00" stroke="#555" stroke-width="0.25"/>
<line x1="87.60" y1="102.40" x2="90.50" y2="102.40" stroke="#555" stroke-width="0.25"/>
<line x1="90.50" y1="102.40" x2="108.00" y2="102.00" stroke="#555" stroke-width="0.25"/>
<line x1="87.60" y1="110.20" x2="90.50" y2="110.20" stroke="#555" stroke-width="0.25"/>
<line x1="90.50" y1="110.20" x2="112.00" y2="110.00" stroke="#555" stroke-width="0.25"/>
<line x1="87.60" y1="124.40" x2="90.50" y2="124.40" stroke="#555" stroke-width="0.25"/>
<line x1="90.50" y1="124.40" x2="95.00" y2="124.40" stroke="#555" stroke-width="0.25"/>
<line x1="87.60" y1="146.80" x2="90.50" y2="146.80" stroke="#555" stroke-width="0.25"/>
<line x1="90.50" y1="146.80" x2="94.40" y2="146.80" stroke="#555" stroke-width="0.25"/>
<line x1="87.60" y1="158.40" x2="90.50" y2="158.40" stroke="#555" stroke-width="0.25"/>
<line x1="90.50" y1="158.40" x2="104.50" y2="156.00" stroke="#555" stroke-width="0.25"/>
<line x1="87.60" y1="171.00" x2="90.50" y2="171.00" stroke="#555" stroke-width="0.25"/>
<line x1="90.50" y1="171.00" x2="117.00" y2="174.00" stroke="#555" stroke-width="0.25"/>
<text transform="translate(128.00 34.80) scale(1.175 1)" font-size="2.3" text-anchor="start" fill="#111" stroke="#111" stroke-width="0.085">L.I.C. STN. STL. PANEL</text>
<text transform="translate(128.00 37.90) scale(1.175 1)" font-size="2.3" text-anchor="start" fill="#111" stroke="#111" stroke-width="0.085">SYSTEM CAP FLASHING</text>
<text transform="translate(128.00 41.00) scale(1.175 1)" font-size="2.3" text-anchor="start" fill="#111" stroke="#111" stroke-width="0.085">W/CONT. CLEAT, TYP.</text>
<text transform="translate(128.00 49.00) scale(1.175 1)" font-size="2.3" text-anchor="start" fill="#111" stroke="#111" stroke-width="0.085">INTERMITTENT F.T. WD.</text>
<text transform="translate(128.00 52.10) scale(1.175 1)" font-size="2.3" text-anchor="start" fill="#111" stroke="#111" stroke-width="0.085">BLOCKING. 6" LENGTHS</text>
<text transform="translate(128.00 55.20) scale(1.175 1)" font-size="2.3" text-anchor="start" fill="#111" stroke="#111" stroke-width="0.085">@ 2'-0" O.C. FILL VOIDS</text>
<text transform="translate(128.00 58.40) scale(1.175 1)" font-size="2.3" text-anchor="start" fill="#111" stroke="#111" stroke-width="0.085">W/ RIGID INSULATION.</text>
<path d="M127.00 35.50 L106.00 35.50 L96.50 47.00" fill="none" stroke="#555" stroke-width="0.25"/>
<path d="M127.00 49.80 L121.00 49.80 L116.00 64.00" fill="none" stroke="#555" stroke-width="0.25"/>
<text transform="translate(202.00 39.80) scale(1.175 1)" font-size="2.3" text-anchor="start" fill="#111" stroke="#111" stroke-width="0.085">SLOPED METAL ROOFING SYSTEM.</text>
<text transform="translate(202.00 42.70) scale(1.175 1)" font-size="2.3" text-anchor="start" fill="#111" stroke="#111" stroke-width="0.085">PROVIDE SNOW GUARDS AS REQ'D</text>
<text transform="translate(202.00 47.40) scale(1.175 1)" font-size="2.3" text-anchor="start" fill="#111" stroke="#111" stroke-width="0.085">3/4" EXT. F.R. TREATED PLYWOOD</text>
<text transform="translate(202.00 53.80) scale(1.175 1)" font-size="2.3" text-anchor="start" fill="#111" stroke="#111" stroke-width="0.085">3 1/2" RIGID INSULATION</text>
<text transform="translate(202.00 59.00) scale(1.175 1)" font-size="2.3" text-anchor="start" fill="#111" stroke="#111" stroke-width="0.085">VAPOR RETARDER</text>
<text transform="translate(202.00 65.80) scale(1.175 1)" font-size="2.3" text-anchor="start" fill="#111" stroke="#111" stroke-width="0.085">3" STRUCT. STL DECK</text>
<path d="M201.00 40.50 L192.75 40.50 L168.00 66.00" fill="none" stroke="#666" stroke-width="0.25"/>
<path d="M201.00 46.60 L190.25 46.60 L158.00 68.50" fill="none" stroke="#666" stroke-width="0.25"/>
<path d="M201.00 53.00 L188.25 53.00 L150.00 78.00" fill="none" stroke="#666" stroke-width="0.25"/>
<path d="M201.00 58.20 L186.50 58.20 L143.00 84.00" fill="none" stroke="#666" stroke-width="0.25"/>
<path d="M201.00 65.00 L188.25 65.00 L150.00 92.00" fill="none" stroke="#666" stroke-width="0.25"/>
<text transform="translate(245.00 127.20) scale(1.175 1)" font-size="2.3" text-anchor="start" fill="#111" stroke="#111" stroke-width="0.085">PAINT 'RACCOON FUR' IN MARTIN FINISH</text>
<text transform="translate(245.00 133.00) scale(1.175 1)" font-size="2.3" text-anchor="start" fill="#111" stroke="#111" stroke-width="0.085">LIGHTING TRACK MOUNTED TO</text>
<text transform="translate(245.00 135.90) scale(1.175 1)" font-size="2.3" text-anchor="start" fill="#111" stroke="#111" stroke-width="0.085">STRUCT. VIA THREADED ROD</text>
<text transform="translate(245.00 138.80) scale(1.175 1)" font-size="2.3" text-anchor="start" fill="#111" stroke="#111" stroke-width="0.085">SUPPORTS, TYP.</text>
<text transform="translate(245.00 143.80) scale(1.175 1)" font-size="2.3" text-anchor="start" fill="#111" stroke="#111" stroke-width="0.085">TRACK FIXTURES, TYP.</text>
<text transform="translate(245.00 148.40) scale(1.175 1)" font-size="2.3" text-anchor="start" fill="#111" stroke="#111" stroke-width="0.085">EMERGENCY 'J' FIXTURES</text>
<text transform="translate(245.00 151.40) scale(1.175 1)" font-size="2.3" text-anchor="start" fill="#111" stroke="#111" stroke-width="0.085">WHERE INDICATED ON ELEC.</text>
<text transform="translate(245.00 154.50) scale(1.175 1)" font-size="2.3" text-anchor="start" fill="#111" stroke="#111" stroke-width="0.085">DWGS. MOUNT J-BOX FOR FIXT.</text>
<text transform="translate(245.00 157.50) scale(1.175 1)" font-size="2.3" text-anchor="start" fill="#111" stroke="#111" stroke-width="0.085">@ ROOF DECK</text>
<text transform="translate(245.00 162.80) scale(1.175 1)" font-size="2.3" text-anchor="start" fill="#111" stroke="#111" stroke-width="0.085">CENTERLINE OF 'J' FIXTURE</text>
<text transform="translate(245.00 166.20) scale(1.175 1)" font-size="2.3" text-anchor="start" fill="#111" stroke="#111" stroke-width="0.085">MOUNTING ARM</text>
<path d="M244.00 132.50 L222.00 132.50 L209.00 150.00" fill="none" stroke="#666" stroke-width="0.25"/>
<path d="M244.00 143.00 L226.00 143.00 L214.00 170.00" fill="none" stroke="#666" stroke-width="0.25"/>
<path d="M244.00 162.00 L238.00 162.00 L228.00 158.00" fill="none" stroke="#666" stroke-width="0.25"/>
<text transform="translate(175.00 187.80) scale(1.175 1)" font-size="2.3" text-anchor="start" fill="#111" stroke="#111" stroke-width="0.085">STRUCT. STL. BEAM COPED</text>
<text transform="translate(175.00 190.80) scale(1.175 1)" font-size="2.3" text-anchor="start" fill="#111" stroke="#111" stroke-width="0.085">@ COLUMNS, TYP.</text>
<text transform="translate(175.00 196.80) scale(1.175 1)" font-size="2.3" text-anchor="start" fill="#111" stroke="#111" stroke-width="0.085">CONT. J-MOLDING, TYP.</text>
<text transform="translate(175.00 216.60) scale(1.175 1)" font-size="2.3" text-anchor="start" fill="#111" stroke="#111" stroke-width="0.085">STL. TUBE COLUMN</text>
<text transform="translate(175.00 224.20) scale(1.175 1)" font-size="2.3" text-anchor="start" fill="#111" stroke="#111" stroke-width="0.085">5/8" GWB W/LEVEL 5 FINISH</text>
<text transform="translate(175.00 227.30) scale(1.175 1)" font-size="2.3" text-anchor="start" fill="#111" stroke="#111" stroke-width="0.085">ON 1 1/2" FURRING HAT CHANNELS</text>
<line x1="174.00" y1="215.80" x2="158.00" y2="212.00" stroke="#666" stroke-width="0.25"/>
<line x1="174.00" y1="225.00" x2="164.50" y2="225.00" stroke="#666" stroke-width="0.25"/>
<text transform="translate(227.00 214.80) scale(1.175 1)" font-size="2.3" text-anchor="start" fill="#111" stroke="#111" stroke-width="0.085">BOTTOM OF BEAM FLANGE, TYP.</text>
<text transform="translate(227.00 221.10) scale(1.175 1)" font-size="2.3" text-anchor="start" fill="#111" stroke="#111" stroke-width="0.085">SUSPENDED CEMENTITIOUS</text>
<text transform="translate(227.00 224.30) scale(1.175 1)" font-size="2.3" text-anchor="start" fill="#111" stroke="#111" stroke-width="0.085">WOOD FIBER ACOUSTICAL</text>
<text transform="translate(227.00 227.50) scale(1.175 1)" font-size="2.3" text-anchor="start" fill="#111" stroke="#111" stroke-width="0.085">CEILING SYSTEM, FIELD</text>
<text transform="translate(227.00 230.70) scale(1.175 1)" font-size="2.3" text-anchor="start" fill="#111" stroke="#111" stroke-width="0.085">PAINTED (SLOPE VARIES, SEE</text>
<text transform="translate(227.00 233.90) scale(1.175 1)" font-size="2.3" text-anchor="start" fill="#111" stroke="#111" stroke-width="0.085">REFL CEILING PLAN)</text>
<circle cx="80.40" cy="253.60" r="4.70" fill="none" stroke="#bbb" stroke-width="0.3"/>
<text transform="translate(80.40 256.40)" font-size="7.8" text-anchor="middle" fill="#000">1</text>
<text transform="translate(90.00 252.40)" font-size="5.78" text-anchor="start" fill="#000">Section Detail @ Sloped Metal Roof</text>
<line x1="89.50" y1="253.60" x2="190.00" y2="253.60" stroke="#999" stroke-width="0.45"/>
<text transform="translate(90.00 256.20) scale(1.17 1)" font-size="2.3" text-anchor="start" fill="#333" stroke="#333" stroke-width="0.085">SCALE: 3"   =    1'-0"</text>
<line x1="106.00" y1="277.20" x2="337.00" y2="277.20" stroke="#222" stroke-width="0.45" stroke-dasharray="3.2 1 0.7 1"/>
<path d="M339.50 277.20 L336.00 276.20 L336.00 278.20 Z" fill="#000" stroke="#000" stroke-width="0.2"/>
<path d="M106.00 277.20 L109.50 276.20 L109.50 278.20 Z" fill="#000" stroke="#000" stroke-width="0.2"/>
<path d="M40.70 290.70 L157.00 325.01 L164.00 325.00 L193.00 326.30" fill="none" stroke="#111" stroke-width="1.1"/>
<path d="M40.50 291.74 L157.00 326.21 L164.00 326.20 L193.00 327.50" fill="none" stroke="#222" stroke-width="0.85" stroke-dasharray="1.3 0.5"/>
<path d="M40.20 292.15 L157.00 326.81 L164.00 326.80 L193.00 328.00" fill="none" stroke="#444" stroke-width="0.3"/>
<line x1="43.00" y1="280.00" x2="115.00" y2="301.20" stroke="#444" stroke-width="0.3"/>
<line x1="43.00" y1="283.00" x2="115.00" y2="304.20" stroke="#444" stroke-width="0.3"/>
<line x1="43.00" y1="286.00" x2="100.00" y2="302.80" stroke="#555" stroke-width="0.3"/>
<line x1="115.00" y1="301.20" x2="115.00" y2="308.00" stroke="#444" stroke-width="0.3"/>
<path d="M87.00 303.50 L90.00 301.80 L110.00 307.70 L112.00 310.40" fill="none" stroke="#111" stroke-width="1.3"/>
<line x1="91.00" y1="304.40" x2="109.00" y2="309.70" stroke="#222" stroke-width="1.2" stroke-dasharray="3 1.5"/>
<clipPath id="g2a"><path d="M40.2 292.15 L157 326.81 L164 326.8 L200 328.3 L200 356.48 L35 309 Z"/></clipPath>
<g clip-path="url(#g2a)" stroke="#858585" stroke-width="0.25"><line x1="36.15" y1="288.00" x2="36.15" y2="360.00"/><line x1="40.60" y1="288.00" x2="40.60" y2="360.00"/><line x1="45.05" y1="288.00" x2="45.05" y2="360.00"/><line x1="49.50" y1="288.00" x2="49.50" y2="360.00"/><line x1="53.95" y1="288.00" x2="53.95" y2="360.00"/><line x1="58.40" y1="288.00" x2="58.40" y2="360.00"/><line x1="62.85" y1="288.00" x2="62.85" y2="360.00"/><line x1="67.30" y1="288.00" x2="67.30" y2="360.00"/><line x1="71.75" y1="288.00" x2="71.75" y2="360.00"/><line x1="76.20" y1="288.00" x2="76.20" y2="360.00"/><line x1="80.65" y1="288.00" x2="80.65" y2="360.00"/><line x1="85.10" y1="288.00" x2="85.10" y2="360.00"/><line x1="89.55" y1="288.00" x2="89.55" y2="360.00"/><line x1="94.00" y1="288.00" x2="94.00" y2="360.00"/><line x1="98.45" y1="288.00" x2="98.45" y2="360.00"/><line x1="102.90" y1="288.00" x2="102.90" y2="360.00"/><line x1="107.35" y1="288.00" x2="107.35" y2="360.00"/><line x1="111.80" y1="288.00" x2="111.80" y2="360.00"/><line x1="116.25" y1="288.00" x2="116.25" y2="360.00"/><line x1="120.70" y1="288.00" x2="120.70" y2="360.00"/><line x1="125.15" y1="288.00" x2="125.15" y2="360.00"/><line x1="129.60" y1="288.00" x2="129.60" y2="360.00"/><line x1="134.05" y1="288.00" x2="134.05" y2="360.00"/><line x1="138.50" y1="288.00" x2="138.50" y2="360.00"/><line x1="142.95" y1="288.00" x2="142.95" y2="360.00"/><line x1="147.40" y1="288.00" x2="147.40" y2="360.00"/><line x1="151.85" y1="288.00" x2="151.85" y2="360.00"/><line x1="156.30" y1="288.00" x2="156.30" y2="360.00"/><line x1="160.75" y1="288.00" x2="160.75" y2="360.00"/><line x1="165.20" y1="288.00" x2="165.20" y2="360.00"/><line x1="169.65" y1="288.00" x2="169.65" y2="360.00"/><line x1="174.10" y1="288.00" x2="174.10" y2="360.00"/><line x1="178.55" y1="288.00" x2="178.55" y2="360.00"/><line x1="183.00" y1="288.00" x2="183.00" y2="360.00"/><line x1="187.45" y1="288.00" x2="187.45" y2="360.00"/><line x1="191.90" y1="288.00" x2="191.90" y2="360.00"/><line x1="196.35" y1="288.00" x2="196.35" y2="360.00"/><line x1="200.80" y1="288.00" x2="200.80" y2="360.00"/><line x1="34.00" y1="291.40" x2="202.00" y2="291.40"/><line x1="34.00" y1="295.85" x2="202.00" y2="295.85"/><line x1="34.00" y1="300.30" x2="202.00" y2="300.30"/><line x1="34.00" y1="304.75" x2="202.00" y2="304.75"/><line x1="34.00" y1="309.20" x2="202.00" y2="309.20"/><line x1="34.00" y1="313.65" x2="202.00" y2="313.65"/><line x1="34.00" y1="318.10" x2="202.00" y2="318.10"/><line x1="34.00" y1="322.55" x2="202.00" y2="322.55"/><line x1="34.00" y1="327.00" x2="202.00" y2="327.00"/><line x1="34.00" y1="331.45" x2="202.00" y2="331.45"/><line x1="34.00" y1="335.90" x2="202.00" y2="335.90"/><line x1="34.00" y1="340.35" x2="202.00" y2="340.35"/><line x1="34.00" y1="344.80" x2="202.00" y2="344.80"/><line x1="34.00" y1="349.25" x2="202.00" y2="349.25"/><line x1="34.00" y1="353.70" x2="202.00" y2="353.70"/><line x1="34.00" y1="358.15" x2="202.00" y2="358.15"/></g>
<path d="M40.50 290.64 L35.00 309.00" fill="none" stroke="#333" stroke-width="0.35"/>
<path d="M35.00 309.00 L200.00 356.48 L200.00 328.00" fill="none" stroke="#222" stroke-width="0.6"/>
<line x1="32.70" y1="324.00" x2="185.00" y2="366.95" stroke="#444" stroke-width="0.3"/>
<line x1="60.70" y1="331.90" x2="68.70" y2="318.94" stroke="#555" stroke-width="0.3"/>
<line x1="108.70" y1="345.43" x2="116.70" y2="333.10" stroke="#555" stroke-width="0.3"/>
<line x1="156.70" y1="358.97" x2="164.70" y2="347.26" stroke="#555" stroke-width="0.3"/>
<line x1="86.00" y1="324.05" x2="88.70" y2="339.79" stroke="#555" stroke-width="0.3"/>
<line x1="134.00" y1="338.20" x2="136.70" y2="353.33" stroke="#555" stroke-width="0.3"/>
<line x1="182.00" y1="352.37" x2="184.70" y2="366.86" stroke="#555" stroke-width="0.3"/>
<line x1="39.30" y1="310.27" x2="32.70" y2="324.00" stroke="#555" stroke-width="0.3"/>
<path d="M182.00 366.00 L197.00 370.30 L207.00 371.20 L221.00 367.00 L225.00 352.00" fill="none" stroke="#333" stroke-width="0.45"/>
<path d="M186.00 369.00 L197.00 372.20 L207.00 373.00" fill="none" stroke="#555" stroke-width="0.3"/>
<line x1="34.00" y1="378.70" x2="213.30" y2="431.60" stroke="#555" stroke-width="0.3"/>
<line x1="32.70" y1="327.00" x2="120.00" y2="352.12" stroke="#999" stroke-width="0.25"/>
<path d="M144.50 372.00 L146.30 370.40 L146.30 373.60 Z" fill="#000" stroke="#000" stroke-width="0.2"/>
<path d="M148.00 372.00 L146.30 370.40 L146.30 373.60 Z" fill="#000" stroke="#000" stroke-width="0.2"/>
<text transform="translate(151.50 372.60)" font-size="2.9" text-anchor="start" fill="#111" stroke="#111" stroke-width="0.05">T.O. STEEL</text>
<line x1="166.50" y1="372.00" x2="205.00" y2="372.00" stroke="#222" stroke-width="0.4" stroke-dasharray="3 0.9 0.6 0.9"/>
<line x1="181.30" y1="372.00" x2="181.30" y2="416.50" stroke="#666" stroke-width="0.25"/>
<line x1="181.00" y1="416.50" x2="226.00" y2="416.50" stroke="#888" stroke-width="0.25"/>
<text transform="translate(180.30 396.00) rotate(-90)" font-size="2.1" text-anchor="start" fill="#333" stroke="#333" stroke-width="0.085">11"</text>
<path d="M196.00 372.00 L196.00 397.00 L203.00 397.00 L203.00 399.50 L194.50 399.50" fill="none" stroke="#444" stroke-width="0.35"/>
<line x1="198.00" y1="373.00" x2="198.00" y2="396.00" stroke="#777" stroke-width="0.25"/>
<line x1="196.00" y1="408.00" x2="208.00" y2="408.00" stroke="#777" stroke-width="0.25"/>
<text transform="translate(208.50 408.00)" font-size="2.0" text-anchor="start" fill="#333" stroke="#333" stroke-width="0.085">6"</text>
<path d="M203 328 L203 309 Q203 305 207 305 L239 305 Q243 305 243 309 L243 328 Q242 336 235 338 L235 347 M203 328 Q204 336 210 338 L210 347 M210 338 L235 338" fill="none" stroke="#222" stroke-width="0.5" />
<path d="M204.5 328 L204.5 309.5 Q204.5 306.5 207.5 306.5 L238.5 306.5 Q241.5 306.5 241.5 309.5 L241.5 328" fill="none" stroke="#666" stroke-width="0.3" />
<line x1="203.00" y1="320.00" x2="243.00" y2="320.00" stroke="#888" stroke-width="0.25"/>
<rect x="193.00" y="326.00" width="10.00" height="2.60" fill="#333" stroke="#111" stroke-width="0.4" rx="0"/>
<rect x="243.00" y="326.00" width="9.50" height="2.60" fill="#333" stroke="#111" stroke-width="0.4" rx="0"/>
<path d="M199.50 326.00 L200.50 321.00 L202.80 326.00" fill="none" stroke="#222" stroke-width="0.5"/>
<path d="M246.50 326.00 L245.50 321.00 L243.20 326.00" fill="none" stroke="#222" stroke-width="0.5"/>
<text transform="translate(222.70 314.00)" font-size="2.6" text-anchor="middle" fill="#222" stroke="#222" stroke-width="0.05">7'-8"</text>
<line x1="223.00" y1="300.00" x2="223.00" y2="345.00" stroke="#999" stroke-width="0.25" stroke-dasharray="2 0.7 0.5 0.7"/>
<path d="M209.4 347 L209.4 394 Q209.4 419.6 235 419.6 L249.3 419.6" fill="none" stroke="#222" stroke-width="0.55" />
<path d="M206.8 347 L206.8 394 Q206.8 422 235 422 L249.3 422" fill="none" stroke="#555" stroke-width="0.3" />
<path d="M213 338 L213 394 Q213 416.5 235 416.5 L249.3 416.5" fill="none" stroke="#555" stroke-width="0.3" />
<path d="M232.6 338 L232.6 389 Q232.6 397.4 241 397.4 L249.3 397.4" fill="none" stroke="#222" stroke-width="0.55" />
<path d="M236 347 L236 389 Q236 394.5 241.5 394.5 L249.3 394.5" fill="none" stroke="#555" stroke-width="0.3" />
<path d="M230 347 L230 389 Q230 400.2 241 400.2 L249.3 400.2" fill="none" stroke="#555" stroke-width="0.3" />
<line x1="206.80" y1="347.00" x2="213.00" y2="347.00" stroke="#333" stroke-width="0.4"/>
<line x1="230.00" y1="347.00" x2="236.00" y2="347.00" stroke="#333" stroke-width="0.4"/>
<line x1="223.00" y1="345.00" x2="223.00" y2="432.00" stroke="#999" stroke-width="0.25" stroke-dasharray="2 0.7 0.5 0.7"/>
<path d="M252.50 326.30 L262.00 324.20 L268.00 322.00 L392.00 301.54" fill="none" stroke="#111" stroke-width="1.1"/>
<path d="M252.50 327.50 L262.00 325.40 L268.00 323.20 L392.00 302.74" fill="none" stroke="#222" stroke-width="0.85" stroke-dasharray="1.3 0.5"/>
<path d="M246.00 328.20 L262.00 326.20 L268.00 324.00 L393.00 303.38" fill="none" stroke="#444" stroke-width="0.3"/>
<clipPath id="g2b"><path d="M246 328.2 L262 326.2 L268 324 L394 303.21 L395 321.99 L246 348.31 Z"/></clipPath>
<g clip-path="url(#g2b)" stroke="#858585" stroke-width="0.25"><line x1="247.08" y1="296.00" x2="247.08" y2="352.00"/><line x1="251.53" y1="296.00" x2="251.53" y2="352.00"/><line x1="255.98" y1="296.00" x2="255.98" y2="352.00"/><line x1="260.43" y1="296.00" x2="260.43" y2="352.00"/><line x1="264.88" y1="296.00" x2="264.88" y2="352.00"/><line x1="269.33" y1="296.00" x2="269.33" y2="352.00"/><line x1="273.78" y1="296.00" x2="273.78" y2="352.00"/><line x1="278.23" y1="296.00" x2="278.23" y2="352.00"/><line x1="282.68" y1="296.00" x2="282.68" y2="352.00"/><line x1="287.13" y1="296.00" x2="287.13" y2="352.00"/><line x1="291.58" y1="296.00" x2="291.58" y2="352.00"/><line x1="296.03" y1="296.00" x2="296.03" y2="352.00"/><line x1="300.48" y1="296.00" x2="300.48" y2="352.00"/><line x1="304.93" y1="296.00" x2="304.93" y2="352.00"/><line x1="309.38" y1="296.00" x2="309.38" y2="352.00"/><line x1="313.83" y1="296.00" x2="313.83" y2="352.00"/><line x1="318.28" y1="296.00" x2="318.28" y2="352.00"/><line x1="322.73" y1="296.00" x2="322.73" y2="352.00"/><line x1="327.18" y1="296.00" x2="327.18" y2="352.00"/><line x1="331.63" y1="296.00" x2="331.63" y2="352.00"/><line x1="336.08" y1="296.00" x2="336.08" y2="352.00"/><line x1="340.53" y1="296.00" x2="340.53" y2="352.00"/><line x1="344.98" y1="296.00" x2="344.98" y2="352.00"/><line x1="349.43" y1="296.00" x2="349.43" y2="352.00"/><line x1="353.88" y1="296.00" x2="353.88" y2="352.00"/><line x1="358.33" y1="296.00" x2="358.33" y2="352.00"/><line x1="362.78" y1="296.00" x2="362.78" y2="352.00"/><line x1="367.23" y1="296.00" x2="367.23" y2="352.00"/><line x1="371.68" y1="296.00" x2="371.68" y2="352.00"/><line x1="376.13" y1="296.00" x2="376.13" y2="352.00"/><line x1="380.58" y1="296.00" x2="380.58" y2="352.00"/><line x1="385.03" y1="296.00" x2="385.03" y2="352.00"/><line x1="389.48" y1="296.00" x2="389.48" y2="352.00"/><line x1="393.93" y1="296.00" x2="393.93" y2="352.00"/><line x1="245.00" y1="300.30" x2="398.00" y2="300.30"/><line x1="245.00" y1="304.75" x2="398.00" y2="304.75"/><line x1="245.00" y1="309.20" x2="398.00" y2="309.20"/><line x1="245.00" y1="313.65" x2="398.00" y2="313.65"/><line x1="245.00" y1="318.10" x2="398.00" y2="318.10"/><line x1="245.00" y1="322.55" x2="398.00" y2="322.55"/><line x1="245.00" y1="327.00" x2="398.00" y2="327.00"/><line x1="245.00" y1="331.45" x2="398.00" y2="331.45"/><line x1="245.00" y1="335.90" x2="398.00" y2="335.90"/><line x1="245.00" y1="340.35" x2="398.00" y2="340.35"/><line x1="245.00" y1="344.80" x2="398.00" y2="344.80"/><line x1="245.00" y1="349.25" x2="398.00" y2="349.25"/></g>
<path d="M246.00 328.00 L246.00 348.31 L395.00 321.99" fill="none" stroke="#222" stroke-width="0.5"/>
<line x1="225.00" y1="352.00" x2="246.00" y2="348.31" stroke="#333" stroke-width="0.4"/>
<line x1="236.00" y1="364.02" x2="397.00" y2="335.04" stroke="#444" stroke-width="0.3"/>
<line x1="269.20" y1="358.04" x2="273.20" y2="343.50" stroke="#555" stroke-width="0.3"/>
<line x1="317.70" y1="349.31" x2="321.70" y2="334.94" stroke="#555" stroke-width="0.3"/>
<line x1="366.20" y1="340.58" x2="370.20" y2="326.37" stroke="#555" stroke-width="0.3"/>
<line x1="291.60" y1="340.25" x2="299.20" y2="352.64" stroke="#555" stroke-width="0.3"/>
<line x1="340.10" y1="331.69" x2="347.70" y2="343.91" stroke="#555" stroke-width="0.3"/>
<line x1="388.60" y1="323.12" x2="396.20" y2="335.18" stroke="#555" stroke-width="0.3"/>
<line x1="221.00" y1="367.00" x2="397.00" y2="336.12" stroke="#666" stroke-width="0.3"/>
<line x1="392.00" y1="300.54" x2="395.00" y2="321.99" stroke="#555" stroke-width="0.3"/>
<line x1="315.00" y1="303.80" x2="386.50" y2="292.00" stroke="#444" stroke-width="0.3"/>
<line x1="315.00" y1="307.50" x2="386.50" y2="296.00" stroke="#444" stroke-width="0.3"/>
<line x1="320.40" y1="309.20" x2="391.90" y2="298.50" stroke="#555" stroke-width="0.3"/>
<line x1="315.00" y1="303.80" x2="315.00" y2="311.00" stroke="#444" stroke-width="0.3"/>
<line x1="386.50" y1="292.00" x2="391.90" y2="298.50" stroke="#555" stroke-width="0.3"/>
<path d="M312.00 313.20 L315.00 311.20 L341.00 307.00 L344.00 308.70" fill="none" stroke="#111" stroke-width="1.3"/>
<line x1="316.00" y1="312.60" x2="341.00" y2="308.50" stroke="#222" stroke-width="1.2" stroke-dasharray="3 1.5"/>
<line x1="268.00" y1="312.40" x2="311.90" y2="303.80" stroke="#666" stroke-width="0.25"/>
<line x1="267.00" y1="306.00" x2="268.80" y2="322.00" stroke="#777" stroke-width="0.25"/>
<text transform="translate(286.00 307.50) rotate(-11)" font-size="2.9" text-anchor="start" fill="#222" stroke="#222" stroke-width="0.05">10"</text>
<text transform="translate(279.00 316.00) rotate(-10)" font-size="2.5" text-anchor="start" fill="#222" stroke="#222" stroke-width="0.085">SLOPE TO DRAIN</text>
<text transform="translate(280.00 319.40) rotate(-10)" font-size="2.5" text-anchor="start" fill="#222" stroke="#222" stroke-width="0.085">R.H.O. BUILDING</text>
<line x1="264.50" y1="277.20" x2="264.50" y2="322.00" stroke="#777" stroke-width="0.25"/>
<text transform="translate(263.70 301.00) rotate(-90)" font-size="2.0" text-anchor="start" fill="#333" stroke="#333" stroke-width="0.085">1'-0"</text>
<line x1="119.30" y1="300.00" x2="163.30" y2="312.00" stroke="#666" stroke-width="0.25"/>
<line x1="115.30" y1="309.30" x2="120.70" y2="297.30" stroke="#777" stroke-width="0.25"/>
<line x1="160.70" y1="320.00" x2="164.70" y2="310.70" stroke="#777" stroke-width="0.25"/>
<text transform="translate(138.00 303.30) rotate(15)" font-size="2.9" text-anchor="start" fill="#222" stroke="#222" stroke-width="0.05">10"</text>
<text transform="translate(127.30 309.30) rotate(15)" font-size="2.5" text-anchor="start" fill="#222" stroke="#222" stroke-width="0.085">SLOPE TO DRAIN</text>
<text transform="translate(126.40 312.90) rotate(15)" font-size="2.5" text-anchor="start" fill="#222" stroke="#222" stroke-width="0.085">H. ROOF EDGE</text>
<path d="M147.50 318.80 L150.00 319.00 L148.50 320.20 Z" fill="#000" stroke="#000" stroke-width="0.2"/>
<line x1="178.00" y1="310.00" x2="178.00" y2="325.00" stroke="#888" stroke-width="0.25"/>
<line x1="188.00" y1="313.00" x2="188.00" y2="325.00" stroke="#888" stroke-width="0.25"/>
<text transform="translate(206.80 268.80) scale(1.19 1)" font-size="2.3" text-anchor="start" fill="#111" stroke="#111" stroke-width="0.085">EXTEND PVC ROOFING SYSTEM</text>
<text transform="translate(206.80 271.35) scale(1.19 1)" font-size="2.3" text-anchor="start" fill="#111" stroke="#111" stroke-width="0.085">TO 12" ABOVE DRAIN ELEVATION</text>
<text transform="translate(206.80 288.30) scale(1.19 1)" font-size="2.3" text-anchor="start" fill="#111" stroke="#111" stroke-width="0.085">LOW SILHOUETTE DOME ROOF DRAIN</text>
<text transform="translate(206.80 290.85) scale(1.19 1)" font-size="2.3" text-anchor="start" fill="#111" stroke="#111" stroke-width="0.085">WITH DOUBLE TOP-SET DECK PLATE</text>
<text transform="translate(206.80 296.30) scale(1.19 1)" font-size="2.3" text-anchor="start" fill="#111" stroke="#111" stroke-width="0.085">TYPICAL PVC OR STANDING</text>
<text transform="translate(206.80 298.85) scale(1.19 1)" font-size="2.3" text-anchor="start" fill="#111" stroke="#111" stroke-width="0.085">SEAM METAL ROOFING SYSTEM</text>
<line x1="251.00" y1="269.50" x2="265.00" y2="269.50" stroke="#666" stroke-width="0.25"/>
<path d="M205.80 289.00 L202.50 289.00 L202.50 310.00" fill="none" stroke="#666" stroke-width="0.25"/>
<path d="M248.00 297.00 L253.00 297.00 L257.00 323.00" fill="none" stroke="#666" stroke-width="0.25"/>
<text transform="translate(322.00 266.10) scale(1.19 1)" font-size="2.3" text-anchor="start" fill="#111" stroke="#111" stroke-width="0.085">24 GA. ZALMAG EXPANSION STARTER</text>
<text transform="translate(322.00 268.65) scale(1.19 1)" font-size="2.3" text-anchor="start" fill="#111" stroke="#111" stroke-width="0.085">CLIP W/ OPTION OF ROOF</text>
<text transform="translate(322.00 271.20) scale(1.19 1)" font-size="2.3" text-anchor="start" fill="#111" stroke="#111" stroke-width="0.085">REPLACEMENT COVER POCKET</text>
<text transform="translate(322.00 281.60) scale(1.19 1)" font-size="2.3" text-anchor="start" fill="#111" stroke="#111" stroke-width="0.085">24 GA. ZALMAG ROOF PANEL</text>
<text transform="translate(322.00 290.10) scale(1.19 1)" font-size="2.3" text-anchor="start" fill="#111" stroke="#111" stroke-width="0.085">STN. STL. CLIP</text>
<text transform="translate(322.00 292.65) scale(1.19 1)" font-size="2.3" text-anchor="start" fill="#111" stroke="#111" stroke-width="0.085">EVERY 12"</text>
<text transform="translate(322.00 356.30) scale(1.19 1)" font-size="2.3" text-anchor="start" fill="#111" stroke="#111" stroke-width="0.085">NON-CURING BUTYL SEALANT</text>
<text transform="translate(322.00 365.30) scale(1.19 1)" font-size="2.3" text-anchor="start" fill="#111" stroke="#111" stroke-width="0.085">HIGH TEMPERATURE UNDERLAYMENT</text>
<path d="M321.00 266.80 L310.80 266.80 L310.80 313.00" fill="none" stroke="#666" stroke-width="0.25"/>
<path d="M321.00 281.50 L316.00 281.50 L316.00 303.00" fill="none" stroke="#666" stroke-width="0.25"/>
<path d="M341.70 291.00 L345.00 291.00 L345.00 309.00" fill="none" stroke="#666" stroke-width="0.25"/>
<path d="M362.00 356.00 L367.30 356.00 L342.80 312.40" fill="none" stroke="#666" stroke-width="0.25"/>
<path d="M372.60 364.60 L378.00 364.60 L370.50 308.00" fill="none" stroke="#666" stroke-width="0.25"/>
<text transform="translate(265.50 368.30) scale(1.19 1)" font-size="2.3" text-anchor="start" fill="#111" stroke="#111" stroke-width="0.085">STRUCT. STL. CHANNEL @</text>
<text transform="translate(265.50 370.85) scale(1.19 1)" font-size="2.3" text-anchor="start" fill="#111" stroke="#111" stroke-width="0.085">ROOF VALLEY FRAMING, TYP.</text>
<text transform="translate(265.50 380.00) scale(1.19 1)" font-size="2.3" text-anchor="start" fill="#111" stroke="#111" stroke-width="0.085">1/2" - 1" PIPING INSULATION AS</text>
<text transform="translate(265.50 382.55) scale(1.19 1)" font-size="2.3" text-anchor="start" fill="#111" stroke="#111" stroke-width="0.085">REQ'D BY PLUMBING SPECS</text>
<text transform="translate(265.50 388.10) scale(1.19 1)" font-size="2.3" text-anchor="start" fill="#111" stroke="#111" stroke-width="0.085">4" STORMWATER PIPING, TYP.</text>
<text transform="translate(265.50 390.65) scale(1.19 1)" font-size="2.3" text-anchor="start" fill="#111" stroke="#111" stroke-width="0.085">SLOPE 1/4" PER FOOT MIN.</text>
<path d="M264.50 369.00 L250.00 369.00 L199.00 384.00" fill="none" stroke="#666" stroke-width="0.25"/>
<path d="M264.50 380.70 L258.00 380.70 L250.00 395.00" fill="none" stroke="#666" stroke-width="0.25"/>
<path d="M264.50 388.80 L260.00 388.80 L247.00 397.50" fill="none" stroke="#666" stroke-width="0.25"/>
<circle cx="145.30" cy="445.90" r="5.30" fill="none" stroke="#222" stroke-width="0.5"/>
<text transform="translate(145.30 448.70)" font-size="7.8" text-anchor="middle" fill="#000">2</text>
<text transform="translate(155.50 444.80)" font-size="5.75" text-anchor="start" fill="#000">Typ. Section Detail @ Roof Drain</text>
<line x1="155.00" y1="446.20" x2="240.00" y2="446.20" stroke="#888" stroke-width="0.5"/>
<text transform="translate(155.50 448.60) scale(1.17 1)" font-size="2.3" text-anchor="start" fill="#333" stroke="#333" stroke-width="0.085">SCALE: 3"   =    1'-0"</text>
<circle cx="383.20" cy="79.90" r="2.10" fill="#fff" stroke="#111" stroke-width="0.35"/>
<path d="M383.20 79.90 L383.20 77.80 A2.1 2.1 0 0 1 385.30 79.90 Z" fill="#000" stroke="#000" stroke-width="0.1" />
<path d="M383.20 79.90 L383.20 82.00 A2.1 2.1 0 0 1 381.10 79.90 Z" fill="#000" stroke="#000" stroke-width="0.1" />
<text transform="translate(387.50 79.00)" font-size="3.3" text-anchor="start" fill="#111" stroke="#111" stroke-width="0.05">SECOND FLOOR</text>
<text transform="translate(387.50 83.90)" font-size="3.1" text-anchor="start" fill="#111" stroke="#111" stroke-width="0.05">EL. 22'-0"</text>
<line x1="387.30" y1="80.00" x2="440.00" y2="80.00" stroke="#111" stroke-width="0.5" stroke-dasharray="3.6 1 0.8 1"/>
<circle cx="383.20" cy="106.80" r="2.10" fill="#fff" stroke="#111" stroke-width="0.35"/>
<path d="M383.20 106.80 L383.20 104.70 A2.1 2.1 0 0 1 385.30 106.80 Z" fill="#000" stroke="#000" stroke-width="0.1" />
<path d="M383.20 106.80 L383.20 108.90 A2.1 2.1 0 0 1 381.10 106.80 Z" fill="#000" stroke="#000" stroke-width="0.1" />
<text transform="translate(387.50 106.00)" font-size="3.3" text-anchor="start" fill="#111" stroke="#111" stroke-width="0.05">T.O. STEEL</text>
<text transform="translate(387.50 112.30)" font-size="3.1" text-anchor="start" fill="#111" stroke="#111" stroke-width="0.05">EL. 21'-6"</text>
<line x1="387.30" y1="107.00" x2="462.00" y2="107.00" stroke="#111" stroke-width="0.5" stroke-dasharray="3.6 1 0.8 1"/>
<circle cx="383.20" cy="227.20" r="2.10" fill="#fff" stroke="#111" stroke-width="0.35"/>
<path d="M383.20 227.20 L383.20 225.10 A2.1 2.1 0 0 1 385.30 227.20 Z" fill="#000" stroke="#000" stroke-width="0.1" />
<path d="M383.20 227.20 L383.20 229.30 A2.1 2.1 0 0 1 381.10 227.20 Z" fill="#000" stroke="#000" stroke-width="0.1" />
<text transform="translate(387.50 226.30)" font-size="3.3" text-anchor="start" fill="#111" stroke="#111" stroke-width="0.05">B.O. STEEL TUBE AND ANGLE</text>
<text transform="translate(387.50 231.60)" font-size="3.1" text-anchor="start" fill="#111" stroke="#111" stroke-width="0.05">VARIES</text>
<line x1="387.30" y1="227.30" x2="442.00" y2="227.30" stroke="#111" stroke-width="0.5" stroke-dasharray="3.6 1 0.8 1"/>
<line x1="450.70" y1="20.40" x2="565.70" y2="20.40" stroke="#777" stroke-width="0.3"/>
<line x1="484.00" y1="39.00" x2="558.00" y2="39.00" stroke="#aaa" stroke-width="0.25"/>
<text transform="translate(501.00 38.30)" font-size="2.5" text-anchor="middle" fill="#222" stroke="#222" stroke-width="0.085">1'-2"</text>
<text transform="translate(540.00 38.30)" font-size="2.5" text-anchor="middle" fill="#222" stroke="#222" stroke-width="0.085">9"</text>
<rect x="483.30" y="20.40" width="2.90" height="60.00" fill="#9c9c9c" stroke="none" stroke-width="0.4" rx="0"/>
<line x1="483.30" y1="20.40" x2="483.30" y2="53.70" stroke="#333" stroke-width="0.4"/>
<line x1="486.20" y1="20.40" x2="486.20" y2="80.30" stroke="#333" stroke-width="0.4"/>
<line x1="487.30" y1="20.40" x2="487.30" y2="80.30" stroke="#444" stroke-width="0.5" stroke-dasharray="1.6 0.6"/>
<rect x="481.10" y="53.10" width="2.20" height="27.20" fill="#e4e4e4" stroke="#444" stroke-width="0.35" rx="0"/>
<clipPath id="b3a"><rect x="487.3" y="20.5" width="34.7" height="59.6"/></clipPath>
<g clip-path="url(#b3a)"><path d="M 515.30 17.25 A 6.50 5.75 0 0 1 515.30 28.75 L 494.30 25.20 A 6.50 5.75 0 0 0 494.30 36.70 L 515.30 33.15 A 6.50 5.75 0 0 1 515.30 44.65 L 494.30 41.10 A 6.50 5.75 0 0 0 494.30 52.60 L 515.30 49.05 A 6.50 5.75 0 0 1 515.30 60.55 L 494.30 57.00 A 6.50 5.75 0 0 0 494.30 68.50 L 515.30 64.95 A 6.50 5.75 0 0 1 515.30 76.45 L 494.30 72.90 A 6.50 5.75 0 0 0 494.30 84.40 L 515.30 80.85 A 6.50 5.75 0 0 1 515.30 92.35 L 494.30 88.80 A 6.50 5.75 0 0 0 494.30 100.30 L 515.30 96.75" fill="none" stroke="#bdbdbd" stroke-width="0.3"/></g>
<line x1="522.30" y1="20.40" x2="522.30" y2="105.00" stroke="#444" stroke-width="0.3"/>
<rect x="522.30" y="20.40" width="2.40" height="84.00" fill="#8c8c8c" stroke="none" stroke-width="0.4" rx="0"/>
<line x1="525.40" y1="20.40" x2="525.40" y2="92.00" stroke="#111" stroke-width="0.8" stroke-dasharray="1.5 0.5"/>
<rect x="526.70" y="20.40" width="7.00" height="63.00" fill="#cfcfcf" stroke="none" stroke-width="0.4" rx="0"/>
<line x1="533.70" y1="20.40" x2="533.70" y2="92.00" stroke="#555" stroke-width="0.3"/>
<rect x="534.60" y="55.00" width="3.10" height="42.00" fill="#d4d4d4" stroke="none" stroke-width="0.4" rx="0"/>
<line x1="541.30" y1="20.40" x2="541.30" y2="104.00" stroke="#555" stroke-width="0.3"/>
<line x1="557.70" y1="20.40" x2="557.70" y2="104.00" stroke="#333" stroke-width="0.5"/>
<line x1="565.70" y1="20.40" x2="565.70" y2="39.00" stroke="#999" stroke-width="0.25"/>
<line x1="539.00" y1="48.40" x2="557.70" y2="48.40" stroke="#333" stroke-width="0.9"/>
<line x1="526.30" y1="51.00" x2="539.00" y2="51.00" stroke="#333" stroke-width="0.7"/>
<line x1="539.00" y1="48.40" x2="539.00" y2="53.50" stroke="#333" stroke-width="0.6"/>
<path d="M487.00 71.70 L487.00 80.30 L522.30 80.30 L522.30 71.70" fill="none" stroke="#333" stroke-width="0.45"/>
<path d="M440.00 80.60 L521.00 80.60 L521.00 105.20 L462.70 105.20 L457.30 98.00 L440.00 98.00 Z" fill="#f1f1f1" stroke="none" stroke-width="0"/>
<path d="M440.00 98.00 L457.30 98.00 L462.70 105.20 L521.00 105.20" fill="none" stroke="#888" stroke-width="0.3"/>
<line x1="440.00" y1="79.30" x2="481.70" y2="79.30" stroke="#222" stroke-width="1.4" stroke-dasharray="0.8 0.35"/>
<line x1="440.00" y1="80.60" x2="521.00" y2="80.60" stroke="#444" stroke-width="0.4"/>
<rect x="521.00" y="80.60" width="2.00" height="25.00" fill="#c8c8c8" stroke="#888" stroke-width="0.25" rx="0"/>
<path d="M526.30 83.00 L540.30 103.70 L559.00 105.00" fill="none" stroke="#111" stroke-width="1.0" stroke-linejoin="round"/>
<line x1="526.30" y1="83.00" x2="526.30" y2="104.00" stroke="#222" stroke-width="0.5"/>
<ellipse cx="530.6" cy="98.4" rx="4.3" ry="5.2" fill="none" stroke="#333" stroke-width="0.35"/>
<line x1="526.30" y1="104.00" x2="541.00" y2="104.00" stroke="#333" stroke-width="0.4"/>
<line x1="485.70" y1="105.50" x2="559.00" y2="105.50" stroke="#555" stroke-width="0.3"/>
<line x1="485.70" y1="107.50" x2="544.30" y2="107.50" stroke="#222" stroke-width="0.8"/>
<line x1="544.30" y1="107.70" x2="559.00" y2="107.70" stroke="#555" stroke-width="0.3"/>
<line x1="462.00" y1="107.00" x2="486.00" y2="107.00" stroke="#666" stroke-width="0.3"/>
<line x1="541.00" y1="99.40" x2="557.00" y2="99.40" stroke="#666" stroke-width="0.25" stroke-dasharray="1.5 0.6"/>
<text transform="translate(569.00 106.00) rotate(-80)" font-size="2.2" text-anchor="start" fill="#222" stroke="#222" stroke-width="0.085">2 1/8"</text>
<line x1="560.00" y1="104.00" x2="575.00" y2="104.00" stroke="#999" stroke-width="0.2"/>
<line x1="560.00" y1="108.00" x2="575.00" y2="108.00" stroke="#999" stroke-width="0.2"/>
<rect x="444.80" y="106.00" width="30.70" height="2.70" fill="#fff" stroke="#333" stroke-width="0.4" rx="0"/>
<rect x="444.80" y="174.70" width="30.70" height="2.70" fill="#fff" stroke="#333" stroke-width="0.4" rx="0"/>
<line x1="459.20" y1="108.70" x2="459.20" y2="174.70" stroke="#333" stroke-width="0.4"/>
<line x1="461.30" y1="108.70" x2="461.30" y2="174.70" stroke="#333" stroke-width="0.4"/>
<line x1="460.20" y1="177.40" x2="460.20" y2="359.00" stroke="#999" stroke-width="0.25" stroke-dasharray="3 0.8 0.6 0.8"/>
<line x1="459.90" y1="13.00" x2="459.90" y2="106.00" stroke="#aaa" stroke-width="0.25" stroke-dasharray="2 0.8"/>
<line x1="423.50" y1="107.00" x2="423.50" y2="359.00" stroke="#555" stroke-width="0.3"/>
<line x1="427.50" y1="107.00" x2="427.50" y2="359.00" stroke="#555" stroke-width="0.3"/>
<line x1="380.00" y1="107.50" x2="423.50" y2="107.50" stroke="#777" stroke-width="0.3"/>
<line x1="406.70" y1="150.00" x2="449.30" y2="150.00" stroke="#888" stroke-width="0.3"/>
<line x1="475.50" y1="150.00" x2="564.00" y2="150.00" stroke="#888" stroke-width="0.3"/>
<line x1="406.70" y1="156.50" x2="449.30" y2="156.50" stroke="#888" stroke-width="0.3"/>
<line x1="475.50" y1="156.50" x2="564.00" y2="156.50" stroke="#888" stroke-width="0.3"/>
<line x1="380.00" y1="238.70" x2="423.50" y2="238.70" stroke="#444" stroke-width="0.35"/>
<line x1="380.00" y1="243.50" x2="423.50" y2="243.50" stroke="#444" stroke-width="0.35"/>
<path d="M487.70 114.00 L487.70 110.30 L522.30 110.30 L522.30 114.00" fill="none" stroke="#333" stroke-width="0.45"/>
<line x1="487.50" y1="110.30" x2="487.50" y2="200.00" stroke="#222" stroke-width="0.65" stroke-dasharray="1.6 0.6"/>
<clipPath id="b3b"><rect x="488" y="110.5" width="34" height="39.5"/></clipPath>
<g clip-path="url(#b3b)"><path d="M 515.10 103.85 A 6.50 5.75 0 0 1 515.10 115.35 L 495.10 111.80 A 6.50 5.75 0 0 0 495.10 123.30 L 515.10 119.75 A 6.50 5.75 0 0 1 515.10 131.25 L 495.10 127.70 A 6.50 5.75 0 0 0 495.10 139.20 L 515.10 135.65 A 6.50 5.75 0 0 1 515.10 147.15 L 495.10 143.60 A 6.50 5.75 0 0 0 495.10 155.10 L 515.10 151.55 A 6.50 5.75 0 0 1 515.10 163.05 L 495.10 159.50 A 6.50 5.75 0 0 0 495.10 171.00 L 515.10 167.45" fill="none" stroke="#444" stroke-width="0.35"/></g>
<clipPath id="b3d"><rect x="488" y="156.5" width="34" height="43.5"/></clipPath>
<g clip-path="url(#b3d)"><path d="M 515.10 144.95 A 6.50 5.75 0 0 1 515.10 156.45 L 495.10 152.90 A 6.50 5.75 0 0 0 495.10 164.40 L 515.10 160.85 A 6.50 5.75 0 0 1 515.10 172.35 L 495.10 168.80 A 6.50 5.75 0 0 0 495.10 180.30 L 515.10 176.75 A 6.50 5.75 0 0 1 515.10 188.25 L 495.10 184.70 A 6.50 5.75 0 0 0 495.10 196.20 L 515.10 192.65 A 6.50 5.75 0 0 1 515.10 204.15 L 495.10 200.60 A 6.50 5.75 0 0 0 495.10 212.10 L 515.10 208.55 A 6.50 5.75 0 0 1 515.10 220.05 L 495.10 216.50 A 6.50 5.75 0 0 0 495.10 228.00 L 515.10 224.45" fill="none" stroke="#444" stroke-width="0.35"/></g>
<line x1="522.30" y1="108.00" x2="522.30" y2="226.00" stroke="#444" stroke-width="0.3"/>
<rect x="522.30" y="108.00" width="2.40" height="102.00" fill="#8c8c8c" stroke="none" stroke-width="0.4" rx="0"/>
<line x1="525.40" y1="108.00" x2="525.40" y2="210.00" stroke="#111" stroke-width="0.8" stroke-dasharray="1.5 0.5"/>
<rect x="526.70" y="108.00" width="7.00" height="89.00" fill="#cfcfcf" stroke="none" stroke-width="0.4" rx="0"/>
<line x1="533.70" y1="108.00" x2="533.70" y2="205.00" stroke="#555" stroke-width="0.3"/>
<rect x="534.00" y="176.00" width="3.60" height="34.00" fill="#c8c8c8" stroke="none" stroke-width="0.4" rx="0"/>
<line x1="541.30" y1="108.00" x2="541.30" y2="220.70" stroke="#555" stroke-width="0.3"/>
<line x1="557.70" y1="108.00" x2="557.70" y2="222.00" stroke="#333" stroke-width="0.5"/>
<line x1="541.30" y1="220.70" x2="557.70" y2="220.70" stroke="#444" stroke-width="0.35" stroke-dasharray="0.6 0.5"/>
<path d="M487.70 196.00 L487.70 200.00 L522.30 200.00 L522.30 196.00" fill="none" stroke="#333" stroke-width="0.45"/>
<rect x="475.60" y="150.30" width="88.40" height="5.90" fill="#fff" stroke="none" stroke-width="0.4" rx="0"/>
<rect x="406.70" y="150.30" width="42.60" height="5.90" fill="#fff" stroke="none" stroke-width="0.4" rx="0"/>
<rect x="487.40" y="201.30" width="8.00" height="25.40" fill="#c4c4c4" stroke="none" stroke-width="0.4" rx="0"/>
<rect x="495.40" y="201.30" width="25.60" height="25.40" fill="#fff" stroke="#222" stroke-width="0.6" rx="2.2"/>
<rect x="497.00" y="202.90" width="22.40" height="22.20" fill="none" stroke="#666" stroke-width="0.3" rx="1.6"/>
<line x1="487.40" y1="201.30" x2="521.00" y2="201.30" stroke="#333" stroke-width="0.4"/>
<path d="M525.70 201.30 L540.30 223.30 L556.30 224.70" fill="none" stroke="#111" stroke-width="1.0" stroke-linejoin="round"/>
<line x1="523.70" y1="201.00" x2="523.70" y2="226.50" stroke="#222" stroke-width="0.5"/>
<ellipse cx="530.6" cy="217.2" rx="4.3" ry="5.2" fill="none" stroke="#333" stroke-width="0.35"/>
<line x1="524.00" y1="224.00" x2="541.00" y2="224.00" stroke="#333" stroke-width="0.4"/>
<line x1="485.30" y1="227.60" x2="557.00" y2="227.60" stroke="#222" stroke-width="0.9"/>
<line x1="485.30" y1="231.70" x2="525.00" y2="231.70" stroke="#333" stroke-width="0.7"/>
<line x1="485.70" y1="227.60" x2="485.70" y2="231.70" stroke="#333" stroke-width="0.4"/>
<path d="M486.30 232.00 L486.30 285.70 L522.30 291.70" fill="none" stroke="#444" stroke-width="0.4"/>
<line x1="486.30" y1="232.00" x2="486.30" y2="285.70" stroke="#666" stroke-width="0.4" stroke-dasharray="1.2 0.6"/>
<clipPath id="b3c"><path d="M486.6 232 L522 232 L522 291.5 L486.6 285.5 Z"/></clipPath>
<g clip-path="url(#b3c)"><path d="M 514.90 232.25 A 6.50 5.75 0 0 1 514.90 243.75 L 493.90 240.20 A 6.50 5.75 0 0 0 493.90 251.70 L 514.90 248.15 A 6.50 5.75 0 0 1 514.90 259.65 L 493.90 256.10 A 6.50 5.75 0 0 0 493.90 267.60 L 514.90 264.05 A 6.50 5.75 0 0 1 514.90 275.55 L 493.90 272.00 A 6.50 5.75 0 0 0 493.90 283.50 L 514.90 279.95 A 6.50 5.75 0 0 1 514.90 291.45 L 493.90 287.90 A 6.50 5.75 0 0 0 493.90 299.40 L 514.90 295.85" fill="none" stroke="#bbb" stroke-width="0.3"/></g>
<line x1="522.30" y1="232.00" x2="522.30" y2="292.00" stroke="#444" stroke-width="0.35"/>
<line x1="525.00" y1="232.00" x2="525.00" y2="292.00" stroke="#444" stroke-width="0.45"/>
<rect x="522.30" y="232.00" width="2.70" height="60.00" fill="#e2e2e2" stroke="none" stroke-width="0.4" rx="0"/>
<path d="M520.00 237.50 L522.30 237.50 L522.30 232.00" fill="none" stroke="#444" stroke-width="0.4"/>
<path d="M520.00 284.00 L522.30 284.00 L522.30 291.00" fill="none" stroke="#444" stroke-width="0.4"/>
<path d="M488.50 241.00 L486.30 241.00" fill="none" stroke="#444" stroke-width="0.4"/>
<line x1="486.30" y1="285.70" x2="522.30" y2="285.70" stroke="#000" stroke-width="0.0"/>
<clipPath id="g3"><path d="M526.3 229.5 L553.2 229.5 L553.2 281.22 L672.7 302.13 L672.7 318.62 L526.3 292.56 Z"/></clipPath>
<g clip-path="url(#g3)" stroke="#858585" stroke-width="0.25"><line x1="526.40" y1="229.00" x2="526.40" y2="322.00"/><line x1="531.00" y1="229.00" x2="531.00" y2="322.00"/><line x1="535.60" y1="229.00" x2="535.60" y2="322.00"/><line x1="540.20" y1="229.00" x2="540.20" y2="322.00"/><line x1="544.80" y1="229.00" x2="544.80" y2="322.00"/><line x1="549.40" y1="229.00" x2="549.40" y2="322.00"/><line x1="554.00" y1="229.00" x2="554.00" y2="322.00"/><line x1="558.60" y1="229.00" x2="558.60" y2="322.00"/><line x1="563.20" y1="229.00" x2="563.20" y2="322.00"/><line x1="567.80" y1="229.00" x2="567.80" y2="322.00"/><line x1="572.40" y1="229.00" x2="572.40" y2="322.00"/><line x1="577.00" y1="229.00" x2="577.00" y2="322.00"/><line x1="581.60" y1="229.00" x2="581.60" y2="322.00"/><line x1="586.20" y1="229.00" x2="586.20" y2="322.00"/><line x1="590.80" y1="229.00" x2="590.80" y2="322.00"/><line x1="595.40" y1="229.00" x2="595.40" y2="322.00"/><line x1="600.00" y1="229.00" x2="600.00" y2="322.00"/><line x1="604.60" y1="229.00" x2="604.60" y2="322.00"/><line x1="609.20" y1="229.00" x2="609.20" y2="322.00"/><line x1="613.80" y1="229.00" x2="613.80" y2="322.00"/><line x1="618.40" y1="229.00" x2="618.40" y2="322.00"/><line x1="623.00" y1="229.00" x2="623.00" y2="322.00"/><line x1="627.60" y1="229.00" x2="627.60" y2="322.00"/><line x1="632.20" y1="229.00" x2="632.20" y2="322.00"/><line x1="636.80" y1="229.00" x2="636.80" y2="322.00"/><line x1="641.40" y1="229.00" x2="641.40" y2="322.00"/><line x1="646.00" y1="229.00" x2="646.00" y2="322.00"/><line x1="650.60" y1="229.00" x2="650.60" y2="322.00"/><line x1="655.20" y1="229.00" x2="655.20" y2="322.00"/><line x1="659.80" y1="229.00" x2="659.80" y2="322.00"/><line x1="664.40" y1="229.00" x2="664.40" y2="322.00"/><line x1="669.00" y1="229.00" x2="669.00" y2="322.00"/><line x1="673.60" y1="229.00" x2="673.60" y2="322.00"/><line x1="526.00" y1="233.10" x2="674.00" y2="233.10"/><line x1="526.00" y1="237.70" x2="674.00" y2="237.70"/><line x1="526.00" y1="242.30" x2="674.00" y2="242.30"/><line x1="526.00" y1="246.90" x2="674.00" y2="246.90"/><line x1="526.00" y1="251.50" x2="674.00" y2="251.50"/><line x1="526.00" y1="256.10" x2="674.00" y2="256.10"/><line x1="526.00" y1="260.70" x2="674.00" y2="260.70"/><line x1="526.00" y1="265.30" x2="674.00" y2="265.30"/><line x1="526.00" y1="269.90" x2="674.00" y2="269.90"/><line x1="526.00" y1="274.50" x2="674.00" y2="274.50"/><line x1="526.00" y1="279.10" x2="674.00" y2="279.10"/><line x1="526.00" y1="283.70" x2="674.00" y2="283.70"/><line x1="526.00" y1="288.30" x2="674.00" y2="288.30"/><line x1="526.00" y1="292.90" x2="674.00" y2="292.90"/><line x1="526.00" y1="297.50" x2="674.00" y2="297.50"/><line x1="526.00" y1="302.10" x2="674.00" y2="302.10"/><line x1="526.00" y1="306.70" x2="674.00" y2="306.70"/><line x1="526.00" y1="311.30" x2="674.00" y2="311.30"/><line x1="526.00" y1="315.90" x2="674.00" y2="315.90"/><line x1="526.00" y1="320.50" x2="674.00" y2="320.50"/></g>
<line x1="526.30" y1="229.50" x2="526.30" y2="292.56" stroke="#444" stroke-width="0.35"/>
<path d="M551.70 234.00 L551.70 280.16" fill="none" stroke="#444" stroke-width="0.35"/>
<path d="M553.70 233.00 L553.70 278.30 L672.70 298.53" fill="none" stroke="#111" stroke-width="1.1" stroke-linejoin="round"/>
<line x1="553.70" y1="279.50" x2="672.70" y2="299.73" stroke="#222" stroke-width="0.6" stroke-dasharray="1.2 0.6"/>
<line x1="553.70" y1="275.90" x2="672.70" y2="294.33" stroke="#444" stroke-width="0.3"/>
<line x1="551.70" y1="280.56" x2="672.70" y2="301.13" stroke="#444" stroke-width="0.3"/>
<line x1="551.70" y1="281.76" x2="672.70" y2="302.33" stroke="#555" stroke-width="0.3"/>
<path d="M556 228.2 L560.2 230.6 L559 236 L556.2 245 L558.8 247.2" fill="none" stroke="#111" stroke-width="1.1" />
<path d="M557 229.5 L559.5 233 M557.8 236 L559.8 240" fill="none" stroke="#222" stroke-width="0.7" />
<line x1="553.70" y1="228.30" x2="556.50" y2="228.30" stroke="#222" stroke-width="0.9"/>
<path d="M572.80 281.20 L574.20 279.00 L582.20 280.30 L583.40 283.00 L580.00 282.60 L575.00 281.80 Z" fill="#333" stroke="#111" stroke-width="0.5"/>
<line x1="460.00" y1="294.00" x2="500.00" y2="301.40" stroke="#444" stroke-width="0.35" stroke-dasharray="3 1"/>
<line x1="526.30" y1="292.56" x2="672.70" y2="318.62" stroke="#333" stroke-width="0.55" stroke-dasharray="1.6 0.7 0.5 0.7"/>
<path d="M458.00 292.80 L461.60 294.20 L458.00 295.60 Z" fill="#000" stroke="#000" stroke-width="0.2"/>
<line x1="500.00" y1="301.40" x2="672.70" y2="333.35" stroke="#444" stroke-width="0.35"/>
<line x1="502.00" y1="303.97" x2="672.70" y2="335.55" stroke="#888" stroke-width="0.25"/>
<line x1="658.50" y1="316.09" x2="663.00" y2="331.56" stroke="#555" stroke-width="0.3"/>
<line x1="632.80" y1="325.97" x2="641.30" y2="313.03" stroke="#555" stroke-width="0.3"/>
<line x1="610.50" y1="307.55" x2="615.00" y2="322.68" stroke="#555" stroke-width="0.3"/>
<line x1="584.80" y1="317.09" x2="593.30" y2="304.49" stroke="#555" stroke-width="0.3"/>
<line x1="562.50" y1="299.00" x2="567.00" y2="313.80" stroke="#555" stroke-width="0.3"/>
<line x1="536.80" y1="308.21" x2="545.30" y2="295.94" stroke="#555" stroke-width="0.3"/>
<line x1="489.00" y1="326.00" x2="672.70" y2="359.62" stroke="#444" stroke-width="0.35"/>
<line x1="489.50" y1="323.69" x2="672.70" y2="357.22" stroke="#888" stroke-width="0.25"/>
<line x1="496.00" y1="289.00" x2="489.00" y2="326.00" stroke="#444" stroke-width="0.35"/>
<line x1="502.00" y1="290.00" x2="496.00" y2="328.00" stroke="#666" stroke-width="0.3"/>
<line x1="496.00" y1="289.00" x2="502.00" y2="290.00" stroke="#555" stroke-width="0.3"/>
<line x1="672.70" y1="294.03" x2="672.70" y2="319.12" stroke="#555" stroke-width="0.3"/>
<line x1="672.70" y1="333.35" x2="672.70" y2="359.62" stroke="#999" stroke-width="0.25"/>
<line x1="489.60" y1="328.00" x2="489.60" y2="359.30" stroke="#555" stroke-width="0.3"/>
<line x1="495.60" y1="328.00" x2="495.60" y2="359.30" stroke="#555" stroke-width="0.3"/>
<line x1="573.30" y1="341.43" x2="573.30" y2="359.30" stroke="#555" stroke-width="0.3"/>
<line x1="576.00" y1="341.92" x2="576.00" y2="359.30" stroke="#555" stroke-width="0.3"/>
<line x1="600.00" y1="346.31" x2="600.00" y2="359.30" stroke="#555" stroke-width="0.3"/>
<line x1="510.00" y1="291.00" x2="528.00" y2="322.00" stroke="#999" stroke-width="0.25"/>
<line x1="516.00" y1="291.50" x2="553.00" y2="338.00" stroke="#999" stroke-width="0.25"/>
<line x1="528.00" y1="296.00" x2="538.00" y2="314.00" stroke="#999" stroke-width="0.25"/>
<path d="M584.30 30.20 L584.00 30.20 L529.00 30.20" fill="none" stroke="#777" stroke-width="0.25"/>
<path d="M584.30 45.60 L568.00 45.60 L528.00 62.00" fill="none" stroke="#777" stroke-width="0.25"/>
<path d="M584.30 60.00 L571.00 60.00 L529.00 87.70" fill="none" stroke="#777" stroke-width="0.25"/>
<path d="M584.30 71.30 L574.00 71.30 L540.50 97.00" fill="none" stroke="#777" stroke-width="0.25"/>
<path d="M584.30 82.30 L574.00 82.30 L555.00 104.00" fill="none" stroke="#777" stroke-width="0.25"/>
<path d="M584.30 95.30 L584.00 95.30 L559.00 95.30" fill="none" stroke="#777" stroke-width="0.25"/>
<path d="M584.30 107.80 L584.00 107.80 L560.00 107.80" fill="none" stroke="#777" stroke-width="0.25"/>
<path d="M584.30 117.00 L584.00 117.00 L520.00 117.00" fill="none" stroke="#777" stroke-width="0.25"/>
<path d="M584.30 121.50 L584.00 121.50 L527.00 121.50" fill="none" stroke="#777" stroke-width="0.25"/>
<path d="M584.30 127.80 L584.00 127.80 L505.00 127.80" fill="none" stroke="#777" stroke-width="0.25"/>
<path d="M584.30 135.80 L584.00 135.80 L527.00 135.80" fill="none" stroke="#777" stroke-width="0.25"/>
<path d="M584.30 143.80 L576.00 143.80 L512.00 212.00" fill="none" stroke="#777" stroke-width="0.25"/>
<path d="M584.30 151.50 L577.00 151.50 L532.00 214.00" fill="none" stroke="#777" stroke-width="0.25"/>
<path d="M584.30 162.00 L577.00 162.00 L546.00 223.50" fill="none" stroke="#777" stroke-width="0.25"/>
<path d="M584.30 175.40 L577.00 175.40 L543.00 223.80" fill="none" stroke="#777" stroke-width="0.25"/>
<path d="M584.30 184.50 L577.00 184.50 L554.00 224.00" fill="none" stroke="#777" stroke-width="0.25"/>
<path d="M584.30 192.00 L577.00 192.00 L558.00 216.00" fill="none" stroke="#777" stroke-width="0.25"/>
<path d="M584.30 205.80 L579.00 205.80 L560.00 226.00" fill="none" stroke="#777" stroke-width="0.25"/>
<path d="M584.30 212.80 L579.00 212.80 L557.00 236.00" fill="none" stroke="#777" stroke-width="0.25"/>
<path d="M584.30 235.30 L579.00 235.30 L560.00 238.00" fill="none" stroke="#777" stroke-width="0.25"/>
<path d="M584.30 244.00 L579.00 244.00 L556.00 258.00" fill="none" stroke="#777" stroke-width="0.25"/>
<path d="M584.30 248.80 L579.00 248.80 L540.00 262.00" fill="none" stroke="#777" stroke-width="0.25"/>
<path d="M584.30 254.60 L584.00 254.60 L510.00 254.60" fill="none" stroke="#777" stroke-width="0.25"/>
<path d="M584.30 263.50 L579.00 263.50 L520.00 288.00" fill="none" stroke="#777" stroke-width="0.25"/>
<path d="M584.30 269.80 L579.00 269.80 L560.00 280.00" fill="none" stroke="#777" stroke-width="0.25"/>
<path d="M584.30 276.50 L584.00 276.50 L583.00 281.50" fill="none" stroke="#777" stroke-width="0.25"/>
<line x1="570.30" y1="200.80" x2="570.30" y2="240.00" stroke="#333" stroke-width="0.35"/>
<line x1="574.30" y1="200.80" x2="574.30" y2="262.00" stroke="#333" stroke-width="0.35"/>
<text transform="translate(570.00 216.00) rotate(-90)" font-size="1.9" text-anchor="start" fill="#222" stroke="#222" stroke-width="0.085">5 1/8"</text>
<text transform="translate(570.00 238.00) rotate(-90)" font-size="1.9" text-anchor="start" fill="#222" stroke="#222" stroke-width="0.085">1 1/4"</text>
<text transform="translate(574.20 252.00) rotate(-90)" font-size="1.9" text-anchor="start" fill="#222" stroke="#222" stroke-width="0.085">8"</text>
<text transform="translate(609.30 200.20) scale(1.1 1)" font-size="3.0" text-anchor="start" fill="#111" stroke="#111" stroke-width="0.05">T.O. STL. TUBE</text>
<circle cx="637.90" cy="200.80" r="2.10" fill="#fff" stroke="#111" stroke-width="0.35"/>
<path d="M637.90 200.80 L637.90 198.70 A2.1 2.1 0 0 1 640.00 200.80 Z" fill="#000" stroke="#000" stroke-width="0.1" />
<path d="M637.90 200.80 L637.90 202.90 A2.1 2.1 0 0 1 635.80 200.80 Z" fill="#000" stroke="#000" stroke-width="0.1" />
<line x1="569.00" y1="200.80" x2="634.00" y2="200.80" stroke="#111" stroke-width="0.5" stroke-dasharray="3.6 1 0.8 1"/>
<text transform="translate(576.50 226.60) scale(1.12 1)" font-size="3.0" text-anchor="start" fill="#111" stroke="#111" stroke-width="0.05">T.O. STEEL/B.O. RELIEVING ANGLE</text>
<circle cx="637.90" cy="227.20" r="2.10" fill="#fff" stroke="#111" stroke-width="0.35"/>
<path d="M637.90 227.20 L637.90 225.10 A2.1 2.1 0 0 1 640.00 227.20 Z" fill="#000" stroke="#000" stroke-width="0.1" />
<path d="M637.90 227.20 L637.90 229.30 A2.1 2.1 0 0 1 635.80 227.20 Z" fill="#000" stroke="#000" stroke-width="0.1" />
<line x1="566.00" y1="227.30" x2="634.00" y2="227.30" stroke="#111" stroke-width="0.5" stroke-dasharray="3.6 1 0.8 1"/>
<text transform="translate(585.30 30.20) scale(1.15 1)" font-size="2.35" text-anchor="start" fill="#111" stroke="#111" stroke-width="0.085">CONTINUOUS 2" MINERAL WOOL</text>
<text transform="translate(585.30 32.70) scale(1.15 1)" font-size="2.35" text-anchor="start" fill="#111" stroke="#111" stroke-width="0.085">INSULATION</text>
<text transform="translate(585.30 45.20) scale(1.15 1)" font-size="2.35" text-anchor="start" fill="#111" stroke="#111" stroke-width="0.085">8" MEMBRANE FLASHING OVER</text>
<text transform="translate(585.30 47.70) scale(1.15 1)" font-size="2.35" text-anchor="start" fill="#111" stroke="#111" stroke-width="0.085">ELASTOMERIC THERMOPLASTIC</text>
<text transform="translate(585.30 50.20) scale(1.15 1)" font-size="2.35" text-anchor="start" fill="#111" stroke="#111" stroke-width="0.085">FLASHING &amp; ANGLE</text>
<text transform="translate(585.30 59.70) scale(1.15 1)" font-size="2.35" text-anchor="start" fill="#111" stroke="#111" stroke-width="0.085">STN. STL. FLASHING ON SLOPED</text>
<text transform="translate(585.30 62.20) scale(1.15 1)" font-size="2.35" text-anchor="start" fill="#111" stroke="#111" stroke-width="0.085">MORTAR BED</text>
<text transform="translate(585.30 71.10) scale(1.15 1)" font-size="2.35" text-anchor="start" fill="#111" stroke="#111" stroke-width="0.085">3/8" GALV. STL. RELIEVING ANGLE</text>
<text transform="translate(585.30 73.60) scale(1.15 1)" font-size="2.35" text-anchor="start" fill="#111" stroke="#111" stroke-width="0.085">AND TYPE, WELDED TO BENT PLATE</text>
<text transform="translate(585.30 76.10) scale(1.15 1)" font-size="2.35" text-anchor="start" fill="#111" stroke="#111" stroke-width="0.085">@ EDGE OF SLAB, TYP.</text>
<text transform="translate(585.30 82.80) scale(1.15 1)" font-size="2.35" text-anchor="start" fill="#111" stroke="#111" stroke-width="0.085">WEEP, TYP.</text>
<text transform="translate(585.30 95.00) scale(1.15 1)" font-size="2.35" text-anchor="start" fill="#111" stroke="#111" stroke-width="0.085">TYPICAL STONE CLADDING WALL</text>
<text transform="translate(585.30 97.50) scale(1.15 1)" font-size="2.35" text-anchor="start" fill="#111" stroke="#111" stroke-width="0.085">SYSTEM. SEE SHEET A12.1</text>
<text transform="translate(585.30 107.50) scale(1.15 1)" font-size="2.35" text-anchor="start" fill="#111" stroke="#111" stroke-width="0.085">1 1/8" SEALANT JOINT OVER</text>
<text transform="translate(585.30 110.00) scale(1.15 1)" font-size="2.35" text-anchor="start" fill="#111" stroke="#111" stroke-width="0.085">BACKER ROD, TYP.</text>
<text transform="translate(585.30 117.50) scale(1.15 1)" font-size="2.35" text-anchor="start" fill="#111" stroke="#111" stroke-width="0.085">DEFLECTION HEAD, TYP.</text>
<text transform="translate(585.30 122.00) scale(1.15 1)" font-size="2.35" text-anchor="start" fill="#111" stroke="#111" stroke-width="0.085">8" MEMBRANE FLASHING, TYP.</text>
<text transform="translate(585.30 127.50) scale(1.15 1)" font-size="2.35" text-anchor="start" fill="#111" stroke="#111" stroke-width="0.085">6" FOIL-FACED BATT INSULATION,</text>
<text transform="translate(585.30 130.00) scale(1.15 1)" font-size="2.35" text-anchor="start" fill="#111" stroke="#111" stroke-width="0.085">ON 6" STL. STUDS TYP.</text>
<text transform="translate(585.30 135.50) scale(1.15 1)" font-size="2.35" text-anchor="start" fill="#111" stroke="#111" stroke-width="0.085">8" MEMBRANE FLASHING OVER</text>
<text transform="translate(585.30 138.00) scale(1.15 1)" font-size="2.35" text-anchor="start" fill="#111" stroke="#111" stroke-width="0.085">STN. STL. FLASHING</text>
<text transform="translate(585.30 143.50) scale(1.15 1)" font-size="2.35" text-anchor="start" fill="#111" stroke="#111" stroke-width="0.085">6 x 6 x 1/4 STL. TUBE BEAM WELDED TO STEEL</text>
<text transform="translate(585.30 146.00) scale(1.15 1)" font-size="2.35" text-anchor="start" fill="#111" stroke="#111" stroke-width="0.085">COLUMN, TYP. SEE STRUCTURAL DWGS.</text>
<text transform="translate(585.30 152.30) scale(1.15 1)" font-size="2.35" text-anchor="start" fill="#111" stroke="#111" stroke-width="0.085">MORTAR NET</text>
<text transform="translate(585.30 161.80) scale(1.15 1)" font-size="2.35" text-anchor="start" fill="#111" stroke="#111" stroke-width="0.085">STN. STL. FLASHING ON SLOPED</text>
<text transform="translate(585.30 164.30) scale(1.15 1)" font-size="2.35" text-anchor="start" fill="#111" stroke="#111" stroke-width="0.085">MORTAR BED</text>
<text transform="translate(585.30 175.10) scale(1.15 1)" font-size="2.35" text-anchor="start" fill="#111" stroke="#111" stroke-width="0.085">3/8" GALV. STL. RELIEVING ANGLE</text>
<text transform="translate(585.30 177.60) scale(1.15 1)" font-size="2.35" text-anchor="start" fill="#111" stroke="#111" stroke-width="0.085">AND TYPE, WELDED TO STL. TUBE, TYP.</text>
<text transform="translate(585.30 185.30) scale(1.15 1)" font-size="2.35" text-anchor="start" fill="#111" stroke="#111" stroke-width="0.085">WEEP, TYP.</text>
<text transform="translate(585.30 191.60) scale(1.15 1)" font-size="2.35" text-anchor="start" fill="#111" stroke="#111" stroke-width="0.085">ELEVATION OF STONE VARIES,</text>
<text transform="translate(585.30 194.10) scale(1.15 1)" font-size="2.35" text-anchor="start" fill="#111" stroke="#111" stroke-width="0.085">SEE SHEET A0.8</text>
<text transform="translate(585.30 205.50) scale(1.15 1)" font-size="2.35" text-anchor="start" fill="#111" stroke="#111" stroke-width="0.085">1 1/8" SEALANT JOINT OVER</text>
<text transform="translate(585.30 208.00) scale(1.15 1)" font-size="2.35" text-anchor="start" fill="#111" stroke="#111" stroke-width="0.085">BACKER ROD, TYP.</text>
<text transform="translate(585.30 213.60) scale(1.15 1)" font-size="2.35" text-anchor="start" fill="#111" stroke="#111" stroke-width="0.085">FASTENERS APPROX. 24" O.C.</text>
<text transform="translate(585.30 232.60) scale(1.15 1)" font-size="2.35" text-anchor="start" fill="#111" stroke="#111" stroke-width="0.085">REMOVABLE STN. STL. METAL</text>
<text transform="translate(585.30 235.10) scale(1.15 1)" font-size="2.35" text-anchor="start" fill="#111" stroke="#111" stroke-width="0.085">COUNTERFLASHING. SEPARATE</text>
<text transform="translate(585.30 237.60) scale(1.15 1)" font-size="2.35" text-anchor="start" fill="#111" stroke="#111" stroke-width="0.085">DISSIMILAR METALS AS REQUIRED</text>
<text transform="translate(585.30 240.10) scale(1.15 1)" font-size="2.35" text-anchor="start" fill="#111" stroke="#111" stroke-width="0.085">TO PREVENT GALVANIC ACTION.</text>
<text transform="translate(585.30 244.80) scale(1.15 1)" font-size="2.35" text-anchor="start" fill="#111" stroke="#111" stroke-width="0.085">CONT. CLEAT</text>
<text transform="translate(585.30 249.60) scale(1.15 1)" font-size="2.35" text-anchor="start" fill="#111" stroke="#111" stroke-width="0.085">8" MEMBRANE FLASHING, TYP.</text>
<text transform="translate(585.30 254.30) scale(1.15 1)" font-size="2.35" text-anchor="start" fill="#111" stroke="#111" stroke-width="0.085">6" FOIL-FACED BATT INSULATION,</text>
<text transform="translate(585.30 256.80) scale(1.15 1)" font-size="2.35" text-anchor="start" fill="#111" stroke="#111" stroke-width="0.085">ON 6" STL. STUD, TYP.</text>
<text transform="translate(585.30 264.30) scale(1.15 1)" font-size="2.35" text-anchor="start" fill="#111" stroke="#111" stroke-width="0.085">DEFLECTION HEAD, TYP.</text>
<text transform="translate(585.30 269.50) scale(1.15 1)" font-size="2.35" text-anchor="start" fill="#111" stroke="#111" stroke-width="0.085">ROOFING SYSTEM</text>
<text transform="translate(585.30 272.00) scale(1.15 1)" font-size="2.35" text-anchor="start" fill="#111" stroke="#111" stroke-width="0.085">FLASHING</text>
<text transform="translate(585.30 277.30) scale(1.15 1)" font-size="2.35" text-anchor="start" fill="#111" stroke="#111" stroke-width="0.085">CONT. CLEAT</text>
<text transform="translate(612.00 270.20) scale(1.15 1)" font-size="2.35" text-anchor="start" fill="#111" stroke="#111" stroke-width="0.085">STANDING SEAM ROOFING SYSTEM</text>
<text transform="translate(612.00 272.70) scale(1.15 1)" font-size="2.35" text-anchor="start" fill="#111" stroke="#111" stroke-width="0.085">SHOWN IN ELEVATION. COMPLETION</text>
<text transform="translate(612.00 275.20) scale(1.15 1)" font-size="2.35" text-anchor="start" fill="#111" stroke="#111" stroke-width="0.085">TO TURN UP CURB WALL. ORIENTATION</text>
<text transform="translate(612.00 277.70) scale(1.15 1)" font-size="2.35" text-anchor="start" fill="#111" stroke="#111" stroke-width="0.085">OF STANDING SEAM VARIES. FOR TYP.</text>
<text transform="translate(612.00 280.20) scale(1.15 1)" font-size="2.35" text-anchor="start" fill="#111" stroke="#111" stroke-width="0.085">DETAILS SEE DWG. A5/12.2</text>
<path d="M666.50 274.00 L668.80 274.00 L667.40 293.33" fill="none" stroke="#666" stroke-width="0.25"/>
<text transform="translate(573.30 323.90) scale(1.15 1)" font-size="2.35" text-anchor="start" fill="#111" stroke="#111" stroke-width="0.085">SELF-ADHERED WATER</text>
<text transform="translate(573.30 326.40) scale(1.15 1)" font-size="2.35" text-anchor="start" fill="#111" stroke="#111" stroke-width="0.085">RESISTANT VAPOR PERMEABLE</text>
<text transform="translate(573.30 328.90) scale(1.15 1)" font-size="2.35" text-anchor="start" fill="#111" stroke="#111" stroke-width="0.085">AIR BARRIER SHEET MEMBRANE, TYP.</text>
<text transform="translate(573.30 331.40) scale(1.15 1)" font-size="2.35" text-anchor="start" fill="#111" stroke="#111" stroke-width="0.085">INCLUDE PLYWOOD PRIMER.</text>
<text transform="translate(573.30 339.30) scale(1.15 1)" font-size="2.35" text-anchor="start" fill="#111" stroke="#111" stroke-width="0.085">VAPOR RETARDER</text>
<path d="M572.30 324.00 L567.00 324.00 L548.00 285.33" fill="none" stroke="#777" stroke-width="0.25"/>
<path d="M572.30 338.50 L553.00 338.50 L534.00 300.00" fill="none" stroke="#777" stroke-width="0.25"/>
<text transform="translate(463.60 63.10) scale(1.15 1)" font-size="2.35" text-anchor="end" fill="#111" stroke="#111" stroke-width="0.085">SEE FINISH SCHEDULE</text>
<text transform="translate(463.60 66.20) scale(1.15 1)" font-size="2.35" text-anchor="end" fill="#111" stroke="#111" stroke-width="0.085">A14.1 FOR FLOOR, BASE,</text>
<text transform="translate(463.60 69.40) scale(1.15 1)" font-size="2.35" text-anchor="end" fill="#111" stroke="#111" stroke-width="0.085">AND WALL FINISHES</text>
<path d="M464.60 65.40 L475.50 65.40 L478.50 78.00" fill="none" stroke="#777" stroke-width="0.25"/>
<line x1="459.80" y1="38.80" x2="484.00" y2="38.80" stroke="#888" stroke-width="0.25"/>
<text transform="translate(409.90 200.00) scale(1.15 1)" font-size="2.35" text-anchor="start" fill="#111" stroke="#111" stroke-width="0.085">CONTINUOUS 2" MINERAL</text>
<text transform="translate(409.90 203.50) scale(1.15 1)" font-size="2.35" text-anchor="start" fill="#111" stroke="#111" stroke-width="0.085">WOOL INSULATION</text>
<path d="M446.00 201.00 L452.00 201.00 L488.00 210.00" fill="none" stroke="#777" stroke-width="0.25"/>
<text transform="translate(408.00 280.80) scale(1.15 1)" font-size="2.35" text-anchor="start" fill="#111" stroke="#111" stroke-width="0.085">WORKING POINT ELEVATION</text>
<path d="M447.00 280.00 L455.00 280.00 L459.00 292.00" fill="none" stroke="#777" stroke-width="0.25"/>
<circle cx="426.50" cy="372.70" r="5.30" fill="none" stroke="#222" stroke-width="0.5"/>
<text transform="translate(426.50 375.50)" font-size="7.8" text-anchor="middle" fill="#000">3</text>
<text transform="translate(436.50 371.30)" font-size="5.8" text-anchor="start" fill="#000">Section Detail @ Second Floor Slab, Stone Wall, and Sloped Metal Roof</text>
<line x1="436.00" y1="372.60" x2="636.00" y2="372.60" stroke="#888" stroke-width="0.5"/>
<text transform="translate(436.50 375.20) scale(1.17 1)" font-size="2.3" text-anchor="start" fill="#333" stroke="#333" stroke-width="0.085">SCALE: 3"   =    1'-0"</text>
</svg>
</body></html>
